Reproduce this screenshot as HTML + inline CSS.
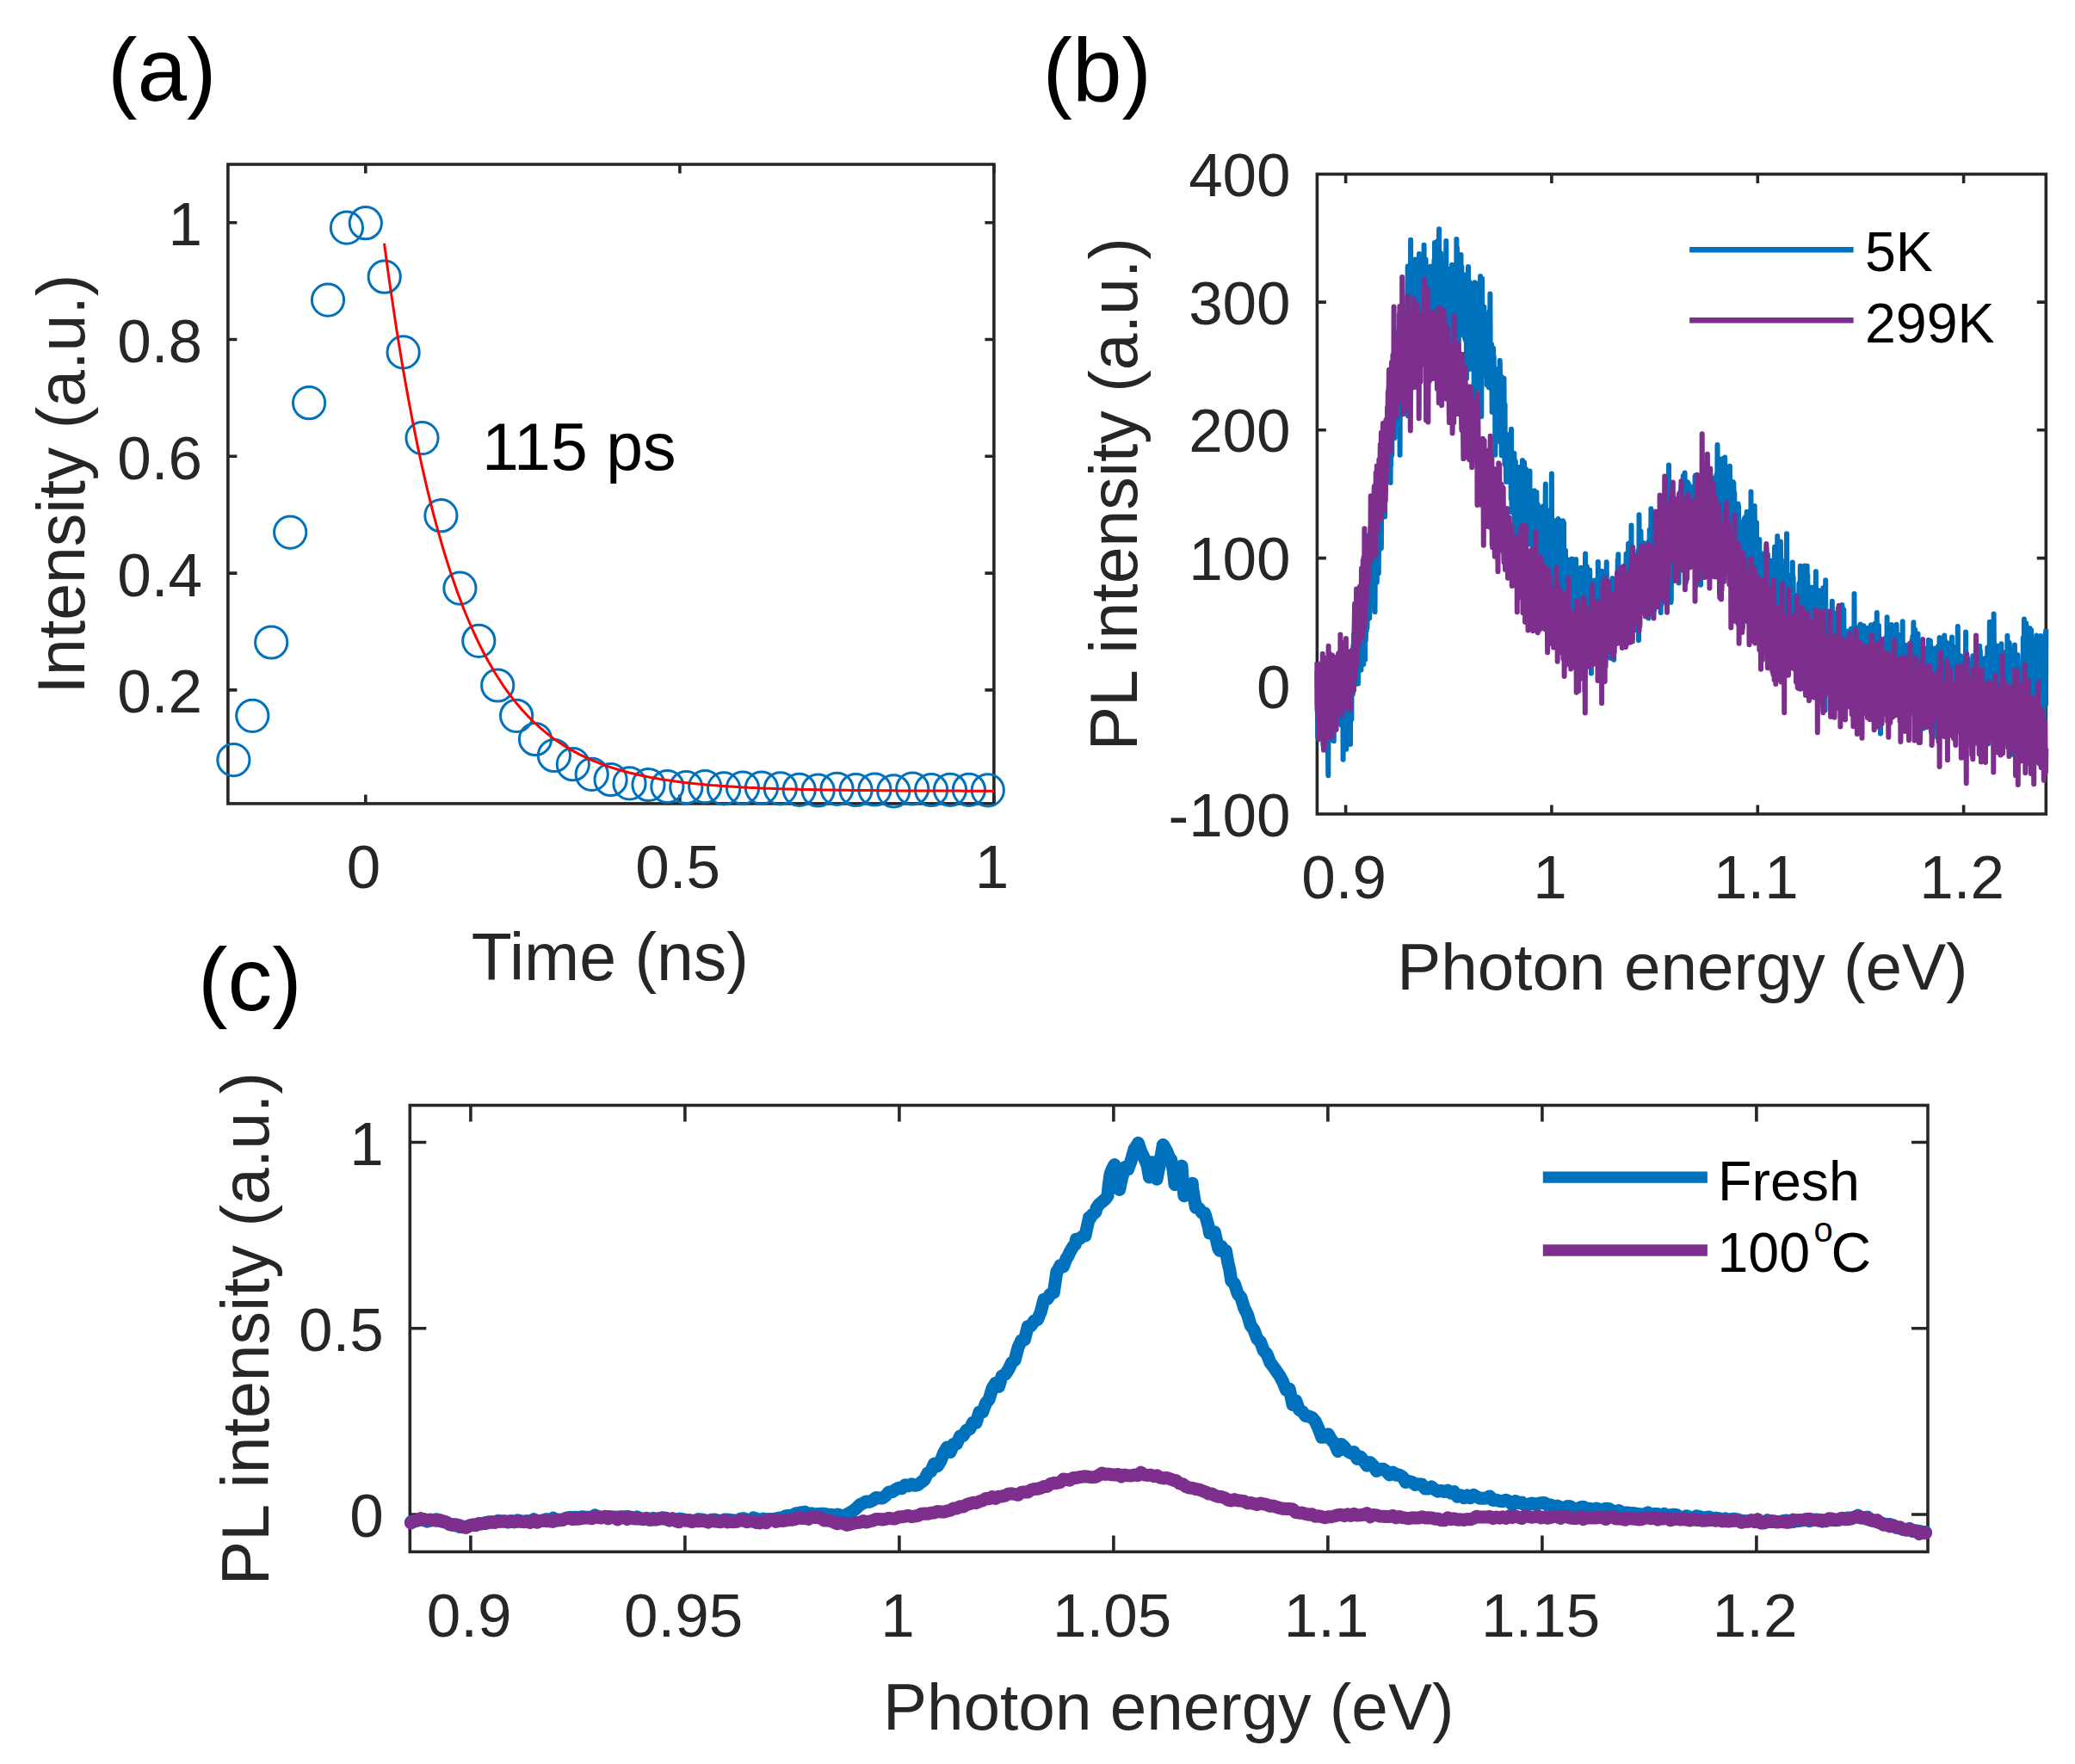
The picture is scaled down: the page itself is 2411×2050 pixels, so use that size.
<!DOCTYPE html>
<html><head><meta charset="utf-8"><title>figure</title>
<style>html,body{margin:0;padding:0;background:#fff}svg{display:block}text{font-family:"Liberation Sans",sans-serif}</style>
</head><body>
<svg width="2411" height="2050" viewBox="0 0 2411 2050">
<rect width="2411" height="2050" fill="#fff"/>
<g id="pa">
<rect x="264.9" y="191" width="890" height="742.9" fill="none" stroke="#262626" stroke-width="3.6"/>
<path d="M424.8 933.9V923.4M424.8 191V201.5M789.9 933.9V923.4M789.9 191V201.5M1154.9 933.9V923.4M1154.9 191V201.5M264.9 801.9H275.4M1154.9 801.9H1144.4M264.9 666.1H275.4M1154.9 666.1H1144.4M264.9 530.3H275.4M1154.9 530.3H1144.4M264.9 394.5H275.4M1154.9 394.5H1144.4M264.9 258.7H275.4M1154.9 258.7H1144.4" stroke="#262626" stroke-width="3.6" fill="none"/>
<circle cx="271.4" cy="883.1" r="18.6" fill="none" stroke="#0072BD" stroke-width="3"/>
<circle cx="293.3" cy="831.8" r="18.6" fill="none" stroke="#0072BD" stroke-width="3"/>
<circle cx="315.2" cy="746.5" r="18.6" fill="none" stroke="#0072BD" stroke-width="3"/>
<circle cx="337.2" cy="618.6" r="18.6" fill="none" stroke="#0072BD" stroke-width="3"/>
<circle cx="359.1" cy="468.2" r="18.6" fill="none" stroke="#0072BD" stroke-width="3"/>
<circle cx="381" cy="348.6" r="18.6" fill="none" stroke="#0072BD" stroke-width="3"/>
<circle cx="402.9" cy="264.6" r="18.6" fill="none" stroke="#0072BD" stroke-width="3"/>
<circle cx="424.8" cy="259.2" r="18.6" fill="none" stroke="#0072BD" stroke-width="3"/>
<circle cx="446.7" cy="321.7" r="18.6" fill="none" stroke="#0072BD" stroke-width="3"/>
<circle cx="468.6" cy="409.4" r="18.6" fill="none" stroke="#0072BD" stroke-width="3"/>
<circle cx="490.5" cy="509.1" r="18.6" fill="none" stroke="#0072BD" stroke-width="3"/>
<circle cx="512.4" cy="599.2" r="18.6" fill="none" stroke="#0072BD" stroke-width="3"/>
<circle cx="534.4" cy="683.6" r="18.6" fill="none" stroke="#0072BD" stroke-width="3"/>
<circle cx="556.3" cy="744.8" r="18.6" fill="none" stroke="#0072BD" stroke-width="3"/>
<circle cx="578.2" cy="796.5" r="18.6" fill="none" stroke="#0072BD" stroke-width="3"/>
<circle cx="600.1" cy="831.8" r="18.6" fill="none" stroke="#0072BD" stroke-width="3"/>
<circle cx="622" cy="859" r="18.6" fill="none" stroke="#0072BD" stroke-width="3"/>
<circle cx="643.9" cy="878" r="18.6" fill="none" stroke="#0072BD" stroke-width="3"/>
<circle cx="665.8" cy="888.2" r="18.6" fill="none" stroke="#0072BD" stroke-width="3"/>
<circle cx="687.7" cy="899.8" r="18.6" fill="none" stroke="#0072BD" stroke-width="3"/>
<circle cx="709.6" cy="906" r="18.6" fill="none" stroke="#0072BD" stroke-width="3"/>
<circle cx="731.5" cy="910.4" r="18.6" fill="none" stroke="#0072BD" stroke-width="3"/>
<circle cx="753.5" cy="912" r="18.6" fill="none" stroke="#0072BD" stroke-width="3"/>
<circle cx="775.4" cy="914" r="18.6" fill="none" stroke="#0072BD" stroke-width="3"/>
<circle cx="797.3" cy="915" r="18.6" fill="none" stroke="#0072BD" stroke-width="3"/>
<circle cx="819.2" cy="914.1" r="18.6" fill="none" stroke="#0072BD" stroke-width="3"/>
<circle cx="841.1" cy="916.4" r="18.6" fill="none" stroke="#0072BD" stroke-width="3"/>
<circle cx="863" cy="915.6" r="18.6" fill="none" stroke="#0072BD" stroke-width="3"/>
<circle cx="884.9" cy="915.6" r="18.6" fill="none" stroke="#0072BD" stroke-width="3"/>
<circle cx="906.8" cy="916.3" r="18.6" fill="none" stroke="#0072BD" stroke-width="3"/>
<circle cx="928.7" cy="917.8" r="18.6" fill="none" stroke="#0072BD" stroke-width="3"/>
<circle cx="950.6" cy="918.5" r="18.6" fill="none" stroke="#0072BD" stroke-width="3"/>
<circle cx="972.5" cy="916.8" r="18.6" fill="none" stroke="#0072BD" stroke-width="3"/>
<circle cx="994.5" cy="918" r="18.6" fill="none" stroke="#0072BD" stroke-width="3"/>
<circle cx="1016.4" cy="917.5" r="18.6" fill="none" stroke="#0072BD" stroke-width="3"/>
<circle cx="1038.3" cy="919.3" r="18.6" fill="none" stroke="#0072BD" stroke-width="3"/>
<circle cx="1060.2" cy="916.5" r="18.6" fill="none" stroke="#0072BD" stroke-width="3"/>
<circle cx="1082.1" cy="918" r="18.6" fill="none" stroke="#0072BD" stroke-width="3"/>
<circle cx="1104" cy="917.8" r="18.6" fill="none" stroke="#0072BD" stroke-width="3"/>
<circle cx="1125.9" cy="917.8" r="18.6" fill="none" stroke="#0072BD" stroke-width="3"/>
<circle cx="1147.8" cy="918.3" r="18.6" fill="none" stroke="#0072BD" stroke-width="3"/>
<path d="M446.5 282.9 L450 309.3 L453.6 334.6 L457.2 358.9 L460.7 382.2 L464.3 404.5 L467.8 425.8 L471.4 446.3 L475 466 L478.5 484.8 L482.1 502.8 L485.6 520.1 L489.2 536.7 L492.8 552.6 L496.3 567.8 L499.9 582.4 L503.4 596.4 L507 609.8 L510.6 622.7 L514.1 635 L517.7 646.8 L521.2 658.1 L524.8 668.9 L528.4 679.3 L531.9 689.3 L535.5 698.8 L539 708 L542.6 716.8 L546.2 725.2 L549.7 733.2 L553.3 741 L556.8 748.4 L560.4 755.5 L564 762.3 L567.5 768.8 L571.1 775.1 L574.6 781 L578.2 786.8 L581.8 792.3 L585.3 797.6 L588.9 802.6 L592.4 807.5 L596 812.1 L599.6 816.6 L603.1 820.8 L606.7 824.9 L610.2 828.8 L613.8 832.6 L617.4 836.2 L620.9 839.7 L624.5 843 L628 846.1 L631.6 849.2 L635.2 852.1 L638.7 854.9 L642.3 857.6 L645.8 860.1 L649.4 862.6 L653 864.9 L656.5 867.2 L660.1 869.4 L663.6 871.4 L667.2 873.4 L670.8 875.3 L674.3 877.2 L677.9 878.9 L681.4 880.6 L685 882.2 L688.6 883.8 L692.1 885.2 L695.7 886.6 L699.2 888 L702.8 889.3 L706.4 890.6 L709.9 891.8 L713.5 892.9 L717 894 L720.6 895 L724.2 896.1 L727.7 897 L731.3 898 L734.8 898.8 L738.4 899.7 L742 900.5 L745.5 901.3 L749.1 902 L752.6 902.8 L756.2 903.5 L759.8 904.1 L763.3 904.7 L766.9 905.4 L770.4 905.9 L774 906.5 L777.6 907 L781.1 907.5 L784.7 908 L788.2 908.5 L791.8 909 L795.4 909.4 L798.9 909.8 L802.5 910.2 L806 910.6 L809.6 910.9 L813.2 911.3 L816.7 911.6 L820.3 911.9 L823.8 912.3 L827.4 912.6 L831 912.8 L834.5 913.1 L838.1 913.4 L841.6 913.6 L845.2 913.9 L848.8 914.1 L852.3 914.3 L855.9 914.5 L859.4 914.7 L863 914.9 L866.5 915.1 L870.1 915.3 L873.7 915.4 L877.2 915.6 L880.8 915.8 L884.3 915.9 L887.9 916.1 L891.5 916.2 L895 916.3 L898.6 916.4 L902.1 916.6 L905.7 916.7 L909.3 916.8 L912.8 916.9 L916.4 917 L919.9 917.1 L923.5 917.2 L927.1 917.3 L930.6 917.4 L934.2 917.5 L937.7 917.5 L941.3 917.6 L944.9 917.7 L948.4 917.8 L952 917.8 L955.5 917.9 L959.1 917.9 L962.7 918 L966.2 918.1 L969.8 918.1 L973.3 918.2 L976.9 918.2 L980.5 918.3 L984 918.3 L987.6 918.4 L991.1 918.4 L994.7 918.4 L998.3 918.5 L1001.8 918.5 L1005.4 918.5 L1008.9 918.6 L1012.5 918.6 L1016.1 918.6 L1019.6 918.7 L1023.2 918.7 L1026.7 918.7 L1030.3 918.8 L1033.9 918.8 L1037.4 918.8 L1041 918.8 L1044.5 918.9 L1048.1 918.9 L1051.7 918.9 L1055.2 918.9 L1058.8 918.9 L1062.3 919 L1065.9 919 L1069.5 919 L1073 919 L1076.6 919 L1080.1 919 L1083.7 919 L1087.3 919.1 L1090.8 919.1 L1094.4 919.1 L1097.9 919.1 L1101.5 919.1 L1105.1 919.1 L1108.6 919.1 L1112.2 919.1 L1115.7 919.1 L1119.3 919.2 L1122.9 919.2 L1126.4 919.2 L1130 919.2 L1133.5 919.2 L1137.1 919.2 L1140.7 919.2 L1144.2 919.2 L1147.8 919.2 L1151.3 919.2 L1154.9 919.2" fill="none" stroke="#FF0000" stroke-width="3" stroke-linejoin="round"/>
<text x="422.5" y="1032" font-size="71" text-anchor="middle" fill="#262626" >0</text>
<text x="787.6" y="1032" font-size="71" text-anchor="middle" fill="#262626" >0.5</text>
<text x="1152.6" y="1032" font-size="71" text-anchor="middle" fill="#262626" >1</text>
<text x="235" y="828.4" font-size="71" text-anchor="end" fill="#262626" >0.2</text>
<text x="235" y="692.6" font-size="71" text-anchor="end" fill="#262626" >0.4</text>
<text x="235" y="556.8" font-size="71" text-anchor="end" fill="#262626" >0.6</text>
<text x="235" y="421" font-size="71" text-anchor="end" fill="#262626" >0.8</text>
<text x="235" y="285.2" font-size="71" text-anchor="end" fill="#262626" >1</text>
<text x="708.9" y="1138.8" font-size="77" text-anchor="middle" fill="#262626" >Time (ns)</text>
<text transform="translate(97.5,562.5) rotate(-90)" font-size="77" text-anchor="middle" fill="#262626">Intensity (a.u.)</text>
<text x="560" y="546.3" font-size="77" text-anchor="start" fill="#000" >115 ps</text>
<text x="125" y="117.3" font-size="103.5" text-anchor="start" fill="#000" >(a)</text>
</g>
<g id="pb">
<rect x="1530.4" y="202.4" width="846.9" height="743.6" fill="none" stroke="#262626" stroke-width="3.6"/>
<path d="M1563.6 946V935.5M1563.6 202.4V212.9M1802.9 946V935.5M1802.9 202.4V212.9M2042.3 946V935.5M2042.3 202.4V212.9M2281.6 946V935.5M2281.6 202.4V212.9M1530.4 797.3H1540.9M2377.3 797.3H2366.8M1530.4 648.6H1540.9M2377.3 648.6H2366.8M1530.4 499.8H1540.9M2377.3 499.8H2366.8M1530.4 351.1H1540.9M2377.3 351.1H2366.8" stroke="#262626" stroke-width="3.6" fill="none"/>
<path d="M1530.3 779.3L1530.6 820.3L1530.9 823.2L1531.2 856.8L1531.5 816L1531.7 808.3L1532 835.1L1532.3 825.2L1532.6 841.7L1532.9 805.4L1533.2 789.8L1533.4 814.6L1533.7 811.2L1534 823L1534.3 841L1534.6 844.4L1534.9 834.8L1535.1 821.2L1535.4 824.4L1535.7 797.9L1536 804.9L1536.3 785.5L1536.5 803.9L1536.8 830.2L1537.1 821.4L1537.4 865.9L1537.7 780.5L1538 838.8L1538.2 834.2L1538.5 776.3L1538.8 851.3L1539.1 839.4L1539.4 825L1539.7 838.3L1539.9 820.8L1540.2 816.7L1540.5 806.5L1540.8 825.7L1541.1 804.8L1541.3 831.4L1541.6 806.8L1541.9 792.1L1542.2 867.3L1542.5 828.2L1542.8 817.6L1543 871.1L1543.3 901.2L1543.6 813.9L1543.9 838.6L1544.2 801.5L1544.5 821.9L1544.7 821.9L1545 830.5L1545.3 818.7L1545.6 844.7L1545.9 834.4L1546.1 800.6L1546.4 827.4L1546.7 807.7L1547 820.9L1547.3 829.3L1547.6 845.4L1547.8 798.5L1548.1 841.6L1548.4 810.3L1548.7 860.2L1549 812.7L1549.3 809.7L1549.5 836L1549.8 861.2L1550.1 823.3L1550.4 816.4L1550.7 832.5L1551 836.3L1551.2 795.1L1551.5 821.4L1551.8 829.1L1552.1 796.3L1552.4 818.5L1552.6 835.9L1552.9 795.2L1553.2 826.9L1553.5 793.5L1553.8 834.6L1554.1 808.7L1554.3 784.9L1554.6 804.9L1554.9 803.6L1555.2 804.8L1555.5 794L1555.8 813.9L1556 804.2L1556.3 821.5L1556.6 765.6L1556.9 837.8L1557.2 793.8L1557.4 840.1L1557.7 800.8L1558 780.6L1558.3 842.4L1558.6 768.8L1558.9 838.6L1559.1 834.8L1559.4 805.1L1559.7 841.5L1560 787.8L1560.3 800.2L1560.6 882.7L1560.8 849.1L1561.1 830.8L1561.4 801.3L1561.7 839.4L1562 830.2L1562.2 795.5L1562.5 836.8L1562.8 803.4L1563.1 845.9L1563.4 784.8L1563.7 773.8L1563.9 839.6L1564.2 870.7L1564.5 853L1564.8 784.8L1565.1 823.9L1565.4 782L1565.6 843L1565.9 832.4L1566.2 810.9L1566.5 779.9L1566.8 812.4L1567 832.7L1567.3 798L1567.6 802.8L1567.9 791.5L1568.2 808.2L1568.5 818.9L1568.7 801.6L1569 864.9L1569.3 793.6L1569.6 767.9L1569.9 784.4L1570.2 822.1L1570.4 836.1L1570.7 761.8L1571 807.8L1571.3 799L1571.6 786.7L1571.8 806.6L1572.1 789.2L1572.4 750.3L1572.7 800.7L1573 737L1573.3 775.5L1573.5 775.9L1573.8 758.3L1574.1 757.6L1574.4 752.8L1574.7 764.4L1575 792.6L1575.2 733.7L1575.5 778.6L1575.8 795L1576.1 748.4L1576.4 753.4L1576.7 769.7L1576.9 765.4L1577.2 750.6L1577.5 713.9L1577.8 764.8L1578.1 794.4L1578.3 774.7L1578.6 744.9L1578.9 762L1579.2 772.7L1579.5 734.4L1579.8 732.6L1580 755.8L1580.3 741.4L1580.6 764.1L1580.9 761.8L1581.2 753.1L1581.5 778.6L1581.7 732L1582 741.5L1582.3 751.3L1582.6 733.5L1582.9 731.2L1583.1 753L1583.4 747.4L1583.7 751.3L1584 692.5L1584.3 772L1584.6 727.7L1584.8 701.7L1585.1 751.6L1585.4 746.8L1585.7 745.9L1586 766.7L1586.3 685.2L1586.5 722.2L1586.8 744.3L1587.1 730.3L1587.4 707L1587.7 719.1L1587.9 732.9L1588.2 693.4L1588.5 729.5L1588.8 714.5L1589.1 697.4L1589.4 720.1L1589.6 696.5L1589.9 714.3L1590.2 622.3L1590.5 704.4L1590.8 672.5L1591.1 712.9L1591.3 718.3L1591.6 689.1L1591.9 693.3L1592.2 691.2L1592.5 680.8L1592.7 653.6L1593 623.2L1593.3 618.2L1593.6 670.3L1593.9 619.2L1594.2 620.7L1594.4 683.3L1594.7 677.4L1595 664.7L1595.3 605.3L1595.6 661.8L1595.9 662.5L1596.1 614.9L1596.4 656.7L1596.7 653.8L1597 630.6L1597.3 640.4L1597.5 711.1L1597.8 676.2L1598.1 619L1598.4 677.2L1598.7 600L1599 634.5L1599.2 623.1L1599.5 620.1L1599.8 676.8L1600.1 643.9L1600.4 651.4L1600.7 612.4L1600.9 573.5L1601.2 621.3L1601.5 610.6L1601.8 666.3L1602.1 618.9L1602.4 612.9L1602.6 609.2L1602.9 584.3L1603.2 559L1603.5 597.6L1603.8 583.6L1604 637.9L1604.3 573.1L1604.6 587.5L1604.9 637L1605.2 574.4L1605.5 601.2L1605.7 550.5L1606 564.4L1606.3 573.3L1606.6 523.5L1606.9 576.2L1607.2 578.5L1607.4 566.4L1607.7 561.9L1608 588.2L1608.3 544.4L1608.6 546.6L1608.8 572.4L1609.1 600.6L1609.4 516.9L1609.7 511.3L1610 521.2L1610.3 516.2L1610.5 489.8L1610.8 530.6L1611.1 489.6L1611.4 539.9L1611.7 559L1612 530.2L1612.2 537.6L1612.5 511.2L1612.8 469.3L1613.1 508.6L1613.4 487.5L1613.6 452.6L1613.9 460.1L1614.2 509.1L1614.5 529.8L1614.8 443L1615.1 537.5L1615.3 557.8L1615.6 560.9L1615.9 462.6L1616.2 540.7L1616.5 501.4L1616.8 495.4L1617 449.4L1617.3 528.9L1617.6 483.2L1617.9 473.3L1618.2 437.1L1618.4 485.5L1618.7 467.6L1619 482.4L1619.3 438L1619.6 440.4L1619.9 479.3L1620.1 448.2L1620.4 508.9L1620.7 458.9L1621 486.3L1621.3 469.7L1621.6 423.4L1621.8 385.8L1622.1 444.2L1622.4 453L1622.7 457.1L1623 421.3L1623.3 448.4L1623.5 410.2L1623.8 390.8L1624.1 417.5L1624.4 447.4L1624.7 409.5L1624.9 453.4L1625.2 485.3L1625.5 392.3L1625.8 366.1L1626.1 383.1L1626.4 434.7L1626.6 528.7L1626.9 443.4L1627.2 399.1L1627.5 429.9L1627.8 371.8L1628.1 440.4L1628.3 397.5L1628.6 404.8L1628.9 402.4L1629.2 454.1L1629.5 411.5L1629.7 398.6L1630 418.5L1630.3 446.4L1630.6 418.9L1630.9 432.7L1631.2 389.8L1631.4 368.6L1631.7 387.9L1632 385.3L1632.3 401.7L1632.6 388.5L1632.9 456.1L1633.1 389.8L1633.4 362.4L1633.7 406.7L1634 366.2L1634.3 435.9L1634.5 384.6L1634.8 391L1635.1 368.7L1635.4 377.9L1635.7 309.5L1636 483.3L1636.2 426.2L1636.5 399.9L1636.8 373.8L1637.1 396.8L1637.4 396.7L1637.7 424.9L1637.9 416.9L1638.2 400L1638.5 321.2L1638.8 396.1L1639.1 278.8L1639.3 333L1639.6 376.2L1639.9 339.2L1640.2 331.6L1640.5 403.3L1640.8 416.4L1641 314.5L1641.3 393.1L1641.6 332.6L1641.9 337.9L1642.2 414.3L1642.5 337.7L1642.7 339.8L1643 315.6L1643.3 358.2L1643.6 341.6L1643.9 343.6L1644.1 363.3L1644.4 301.4L1644.7 323.1L1645 304L1645.3 342.5L1645.6 315.7L1645.8 385.1L1646.1 374L1646.4 320.5L1646.7 360.9L1647 366.3L1647.3 348L1647.5 405.1L1647.8 347.5L1648.1 336.8L1648.4 363.4L1648.7 389.7L1649 295.1L1649.2 338.6L1649.5 386.2L1649.8 371.8L1650.1 405.5L1650.4 409.5L1650.6 415L1650.9 379.5L1651.2 338.2L1651.5 327.6L1651.8 355.6L1652.1 318.2L1652.3 333L1652.6 389.4L1652.9 379.3L1653.2 342.1L1653.5 329L1653.8 315.7L1654 396.4L1654.3 415.1L1654.6 284.7L1654.9 360.1L1655.2 318L1655.4 349.5L1655.7 396L1656 304.4L1656.3 334.9L1656.6 301.6L1656.9 330.2L1657.1 382.5L1657.4 351.2L1657.7 317L1658 372.4L1658.3 343.4L1658.6 311.3L1658.8 390.1L1659.1 361.6L1659.4 343.5L1659.7 317.7L1660 352.2L1660.2 372.5L1660.5 330.5L1660.8 368.9L1661.1 335L1661.4 337L1661.7 355.1L1661.9 320.4L1662.2 309.8L1662.5 391.4L1662.8 331.3L1663.1 353.8L1663.4 358.2L1663.6 345.4L1663.9 309.5L1664.2 352.9L1664.5 358.6L1664.8 389.1L1665 353.3L1665.3 347.8L1665.6 379L1665.9 357.6L1666.2 331.9L1666.5 301.9L1666.7 356.7L1667 281.9L1667.3 314.5L1667.6 318.6L1667.9 327.5L1668.2 343.5L1668.4 367.3L1668.7 348.7L1669 344.5L1669.3 341.1L1669.6 295.8L1669.9 280.6L1670.1 328.4L1670.4 313.1L1670.7 368.3L1671 410.7L1671.3 348.9L1671.5 337.5L1671.8 299.6L1672.1 266.3L1672.4 336.7L1672.7 302.6L1673 308.9L1673.2 338.2L1673.5 318.1L1673.8 332.6L1674.1 294.3L1674.4 379.7L1674.7 420.9L1674.9 340.7L1675.2 314.8L1675.5 310.6L1675.8 363.6L1676.1 327.2L1676.3 366.5L1676.6 322.8L1676.9 369.5L1677.2 380.3L1677.5 314.4L1677.8 386.3L1678 393.5L1678.3 319.5L1678.6 342.1L1678.9 421.2L1679.2 306.9L1679.5 385.9L1679.7 360.6L1680 349.5L1680.3 280L1680.6 346.7L1680.9 316.4L1681.1 350.7L1681.4 329.5L1681.7 392.4L1682 346.3L1682.3 366.5L1682.6 379.8L1682.8 337L1683.1 312.8L1683.4 331.3L1683.7 357.3L1684 323.1L1684.3 383.5L1684.5 336.9L1684.8 330.4L1685.1 350.4L1685.4 356L1685.7 343.9L1685.9 366.5L1686.2 355.3L1686.5 324.2L1686.8 411.2L1687.1 307.7L1687.4 333.7L1687.6 341.8L1687.9 381.8L1688.2 362.6L1688.5 368.7L1688.8 327.2L1689.1 329L1689.3 312.1L1689.6 348L1689.9 416.2L1690.2 381.9L1690.5 362.6L1690.7 340.1L1691 400L1691.3 357.8L1691.6 349.4L1691.9 371.1L1692.2 358.1L1692.4 278L1692.7 352.9L1693 288.1L1693.3 344.9L1693.6 376L1693.9 335.1L1694.1 366.6L1694.4 355.7L1694.7 426.7L1695 342.7L1695.3 373.2L1695.6 317.8L1695.8 351.2L1696.1 367.4L1696.4 389.4L1696.7 355L1697 368.1L1697.2 381.5L1697.5 295.9L1697.8 361.6L1698.1 328.2L1698.4 309.9L1698.7 344.7L1698.9 337.8L1699.2 342.1L1699.5 327.8L1699.8 340.6L1700.1 343.3L1700.4 355.4L1700.6 375.9L1700.9 374.6L1701.2 381.6L1701.5 355.2L1701.8 319.5L1702 392.7L1702.3 382.3L1702.6 394.7L1702.9 365.2L1703.2 330.9L1703.5 375.1L1703.7 354.9L1704 439.9L1704.3 370.4L1704.6 350.4L1704.9 386.3L1705.2 419.4L1705.4 352.6L1705.7 371.4L1706 310.1L1706.3 387.4L1706.6 374.3L1706.8 382L1707.1 367L1707.4 429.1L1707.7 327.7L1708 351.3L1708.3 379.5L1708.5 384.2L1708.8 356.6L1709.1 362.1L1709.4 387.6L1709.7 380L1710 364.2L1710.2 389.3L1710.5 386.7L1710.8 390.3L1711.1 388.8L1711.4 419.2L1711.6 408.4L1711.9 367L1712.2 354.2L1712.5 381.5L1712.8 494.5L1713.1 428.1L1713.3 368.4L1713.6 328.3L1713.9 344.1L1714.2 389.6L1714.5 394.8L1714.8 397.8L1715 329.4L1715.3 377.7L1715.6 414.9L1715.9 356L1716.2 360.4L1716.5 451.4L1716.7 407.9L1717 356.5L1717.3 360.1L1717.6 429L1717.9 390.2L1718.1 362.9L1718.4 380.4L1718.7 425.2L1719 398.4L1719.3 372.2L1719.6 378.2L1719.8 424.8L1720.1 321L1720.4 388.6L1720.7 443.7L1721 407.4L1721.3 484.1L1721.5 419.9L1721.8 400.3L1722.1 323.7L1722.4 394.2L1722.7 389.4L1722.9 377.8L1723.2 395.7L1723.5 421.9L1723.8 361.1L1724.1 388.2L1724.4 356.8L1724.6 373.7L1724.9 436.1L1725.2 421.8L1725.5 420.9L1725.8 421.1L1726.1 395.7L1726.3 416.1L1726.6 436.1L1726.9 366.3L1727.2 370.4L1727.5 412.5L1727.7 447.5L1728 434.7L1728.3 439.7L1728.6 444.8L1728.9 448.1L1729.2 411.3L1729.4 410.4L1729.7 407.1L1730 450.3L1730.3 413L1730.6 361.4L1730.9 416.7L1731.1 437.1L1731.4 341.4L1731.7 417.1L1732 447L1732.3 401.3L1732.5 451.5L1732.8 441.6L1733.1 400.3L1733.4 451.1L1733.7 479L1734 412.5L1734.2 409.5L1734.5 478.6L1734.8 447.9L1735.1 404.8L1735.4 431.5L1735.7 414.5L1735.9 444.8L1736.2 461.5L1736.5 460.2L1736.8 453.5L1737.1 439.6L1737.3 528.6L1737.6 505.8L1737.9 448.1L1738.2 429L1738.5 470.8L1738.8 451.7L1739 486L1739.3 496.5L1739.6 451L1739.9 459.3L1740.2 474.1L1740.5 499.6L1740.7 459.3L1741 464.9L1741.3 472.2L1741.6 469.7L1741.9 478.8L1742.2 453.5L1742.4 459L1742.7 418.9L1743 432L1743.3 477.4L1743.6 514.6L1743.8 460.6L1744.1 499.2L1744.4 437.4L1744.7 529.2L1745 499.3L1745.3 442.4L1745.5 489.9L1745.8 470.2L1746.1 473.9L1746.4 509.9L1746.7 472.2L1747 524.7L1747.2 510.3L1747.5 439.7L1747.8 509.6L1748.1 495.1L1748.4 539.4L1748.6 470L1748.9 538.3L1749.2 534.9L1749.5 532.5L1749.8 544.3L1750.1 560L1750.3 528.5L1750.6 535.9L1750.9 526.3L1751.2 553.8L1751.5 553.1L1751.8 537.7L1752 530.1L1752.3 558.7L1752.6 534.3L1752.9 541.6L1753.2 505.6L1753.4 519.4L1753.7 524.7L1754 511.5L1754.3 560.5L1754.6 504.3L1754.9 539.5L1755.1 560.4L1755.4 535.8L1755.7 579.7L1756 498.7L1756.3 543.8L1756.6 595.3L1756.8 585.8L1757.1 569.1L1757.4 571.6L1757.7 543.5L1758 532.1L1758.2 529.1L1758.5 543.7L1758.8 586.9L1759.1 528.9L1759.4 526.6L1759.7 618.2L1759.9 579.7L1760.2 574.4L1760.5 587.3L1760.8 536.1L1761.1 553.4L1761.4 565.6L1761.6 602.9L1761.9 627.5L1762.2 596.2L1762.5 594L1762.8 596.8L1763.1 632.2L1763.3 616.2L1763.6 585.5L1763.9 564.4L1764.2 589.7L1764.5 582L1764.7 578.1L1765 578.6L1765.3 543.1L1765.6 600.7L1765.9 572.7L1766.2 616.8L1766.4 546.2L1766.7 559.6L1767 552.7L1767.3 578.3L1767.6 585.5L1767.9 619L1768.1 574.2L1768.4 545L1768.7 662.9L1769 535L1769.3 608.6L1769.5 572.3L1769.8 609.5L1770.1 591.3L1770.4 564.2L1770.7 593.2L1771 537.2L1771.2 587.9L1771.5 571.1L1771.8 607.5L1772.1 604.8L1772.4 602.3L1772.7 577.3L1772.9 544.9L1773.2 591.6L1773.5 629.5L1773.8 611L1774.1 633L1774.3 580.9L1774.6 594.4L1774.9 626.1L1775.2 606.4L1775.5 570.2L1775.8 584.2L1776 613.9L1776.3 577L1776.6 587.7L1776.9 614.9L1777.2 594.7L1777.5 547.5L1777.7 632.1L1778 572.7L1778.3 606L1778.6 584.8L1778.9 591.9L1779.1 595.8L1779.4 608.7L1779.7 604.8L1780 586.4L1780.3 593.1L1780.6 647.8L1780.8 594.4L1781.1 570.9L1781.4 583.2L1781.7 603.1L1782 660.9L1782.3 593.5L1782.5 592.1L1782.8 570.2L1783.1 638.8L1783.4 619.1L1783.7 628L1783.9 621.3L1784.2 662.8L1784.5 628.2L1784.8 627.7L1785.1 626.7L1785.4 572.1L1785.6 635.1L1785.9 630.5L1786.2 587.2L1786.5 635L1786.8 586.2L1787.1 607.9L1787.3 638.7L1787.6 641.5L1787.9 618.4L1788.2 628.4L1788.5 620.8L1788.8 640.2L1789 608.2L1789.3 644L1789.6 639L1789.9 631.5L1790.2 662.2L1790.4 636.5L1790.7 634L1791 669.2L1791.3 679.4L1791.6 595.4L1791.9 638.1L1792.1 635.1L1792.4 649.4L1792.7 588.4L1793 638.7L1793.3 683.2L1793.6 620.4L1793.8 661.8L1794.1 623.1L1794.4 639.4L1794.7 600.9L1795 623.6L1795.2 647.8L1795.5 598.2L1795.8 562.5L1796.1 653.7L1796.4 609.1L1796.7 629.4L1796.9 627.8L1797.2 675.3L1797.5 668.5L1797.8 602.4L1798.1 638.2L1798.4 657.7L1798.6 593.3L1798.9 609.9L1799.2 624L1799.5 672.1L1799.8 645.7L1800 605L1800.3 702.9L1800.6 691.1L1800.9 669.7L1801.2 620.9L1801.5 642L1801.7 635.8L1802 644L1802.3 647L1802.6 616.8L1802.9 550.6L1803.2 638.3L1803.4 615.3L1803.7 664.5L1804 608.2L1804.3 650.6L1804.6 648.7L1804.8 667L1805.1 675.9L1805.4 670.3L1805.7 682.7L1806 692.1L1806.3 605.3L1806.5 644.7L1806.8 630.1L1807.1 644L1807.4 698.2L1807.7 658.1L1808 684.3L1808.2 682.4L1808.5 663.7L1808.8 656.4L1809.1 658.9L1809.4 658.4L1809.7 670.5L1809.9 662.1L1810.2 628.6L1810.5 603L1810.8 633.2L1811.1 671L1811.3 654.4L1811.6 639.1L1811.9 638.3L1812.2 632.7L1812.5 632.6L1812.8 656.4L1813 675.9L1813.3 711.3L1813.6 639.3L1813.9 652.4L1814.2 693.7L1814.5 670L1814.7 682L1815 683.6L1815.3 623.4L1815.6 682.2L1815.9 605.3L1816.1 676.9L1816.4 693.5L1816.7 670.4L1817 607.5L1817.3 679.1L1817.6 661.1L1817.8 738.5L1818.1 659.9L1818.4 714.7L1818.7 680.3L1819 639.7L1819.3 684.8L1819.5 658.3L1819.8 684.8L1820.1 688.3L1820.4 671.7L1820.7 649.7L1820.9 677.4L1821.2 681.1L1821.5 707.4L1821.8 728L1822.1 678.1L1822.4 687L1822.6 674.9L1822.9 653.9L1823.2 660.4L1823.5 707.7L1823.8 676.7L1824.1 676.4L1824.3 691.3L1824.6 747.1L1824.9 707.4L1825.2 688.2L1825.5 665.1L1825.7 694.9L1826 725.2L1826.3 649.4L1826.6 688.5L1826.9 700.4L1827.2 673.5L1827.4 669.5L1827.7 691.1L1828 705.4L1828.3 705.4L1828.6 668.1L1828.9 694.2L1829.1 677L1829.4 743.8L1829.7 705.1L1830 702.3L1830.3 705.2L1830.5 746.2L1830.8 705.2L1831.1 649.9L1831.4 685.2L1831.7 708.4L1832 714L1832.2 731.9L1832.5 688.6L1832.8 716.8L1833.1 706.5L1833.4 671.4L1833.7 670.3L1833.9 679.5L1834.2 742.4L1834.5 712.7L1834.8 665L1835.1 730.3L1835.4 663.6L1835.6 699.1L1835.9 672.6L1836.2 710.4L1836.5 731.3L1836.8 727.4L1837 659.7L1837.3 708.9L1837.6 733.9L1837.9 678.1L1838.2 743.2L1838.5 705.5L1838.7 692L1839 693.4L1839.3 690.1L1839.6 704.4L1839.9 769.7L1840.2 695.7L1840.4 703.8L1840.7 708.3L1841 689.5L1841.3 682.1L1841.6 697.5L1841.8 662.3L1842.1 643.5L1842.4 696L1842.7 713.5L1843 739.7L1843.3 688.4L1843.5 753.2L1843.8 658.3L1844.1 677.8L1844.4 719.2L1844.7 686.2L1845 728.8L1845.2 735.3L1845.5 684.2L1845.8 733.1L1846.1 698.6L1846.4 708.9L1846.6 662.6L1846.9 697L1847.2 662.4L1847.5 682L1847.8 727L1848.1 738L1848.3 764L1848.6 705.3L1848.9 782.6L1849.2 728.9L1849.5 772.6L1849.8 723.7L1850 687.4L1850.3 730.9L1850.6 722.1L1850.9 719.5L1851.2 699.7L1851.4 747.8L1851.7 704.4L1852 710.2L1852.3 735.8L1852.6 734.5L1852.9 674.6L1853.1 688L1853.4 696.1L1853.7 730.8L1854 717.5L1854.3 743.8L1854.6 756.5L1854.8 721.2L1855.1 724.9L1855.4 742.7L1855.7 742L1856 698.6L1856.3 721.5L1856.5 752.1L1856.8 653L1857.1 756.6L1857.4 703.2L1857.7 736.6L1857.9 690.7L1858.2 707.3L1858.5 681.5L1858.8 711.3L1859.1 730.1L1859.4 670L1859.6 711.1L1859.9 715.3L1860.2 713.8L1860.5 729.6L1860.8 700.1L1861.1 663.8L1861.3 668.9L1861.6 701.6L1861.9 692.2L1862.2 689.4L1862.5 727.3L1862.7 669.1L1863 703.1L1863.3 759.7L1863.6 693.1L1863.9 735L1864.2 701.8L1864.4 691.5L1864.7 718.6L1865 702.6L1865.3 673.2L1865.6 747.8L1865.9 761.7L1866.1 713.5L1866.4 716.7L1866.7 653.3L1867 682.9L1867.3 695.7L1867.5 712.9L1867.8 763L1868.1 746.3L1868.4 719L1868.7 704.9L1869 721.6L1869.2 706.9L1869.5 690.7L1869.8 729.2L1870.1 721.3L1870.4 736.1L1870.7 676.4L1870.9 764.8L1871.2 692.9L1871.5 688.1L1871.8 764.7L1872.1 722.1L1872.3 679.1L1872.6 733.4L1872.9 724.3L1873.2 709.5L1873.5 672.1L1873.8 691.1L1874 726.6L1874.3 745.4L1874.6 748.9L1874.9 698.2L1875.2 766.7L1875.5 722.9L1875.7 690.6L1876 739.6L1876.3 715.3L1876.6 709.3L1876.9 685.4L1877.1 742.8L1877.4 703.7L1877.7 706.9L1878 702.3L1878.3 748.1L1878.6 690.7L1878.8 727.5L1879.1 707.3L1879.4 727.2L1879.7 650.3L1880 701.8L1880.3 644.2L1880.5 720L1880.8 710.1L1881.1 661.7L1881.4 712L1881.7 689.5L1882 669.7L1882.2 711.3L1882.5 719.4L1882.8 707.4L1883.1 672.4L1883.4 688.2L1883.6 664.2L1883.9 706.7L1884.2 712.3L1884.5 730L1884.8 706.9L1885.1 714.7L1885.3 701.4L1885.6 723.8L1885.9 717.3L1886.2 705.9L1886.5 670.5L1886.8 706.1L1887 712.4L1887.3 668.1L1887.6 659L1887.9 704.1L1888.2 702.7L1888.4 745.3L1888.7 738.1L1889 696.2L1889.3 656.4L1889.6 643.5L1889.9 671.4L1890.1 707.2L1890.4 679.4L1890.7 733.7L1891 695.2L1891.3 725.3L1891.6 692.3L1891.8 652.5L1892.1 631.7L1892.4 685.6L1892.7 680.3L1893 736.7L1893.2 708.7L1893.5 648.4L1893.8 658L1894.1 666.7L1894.4 677.1L1894.7 643.7L1894.9 696L1895.2 693.9L1895.5 610.5L1895.8 711.7L1896.1 675.2L1896.4 697.7L1896.6 645.5L1896.9 694L1897.2 696L1897.5 694.7L1897.8 663.4L1898 713.3L1898.3 726.3L1898.6 688.2L1898.9 694.4L1899.2 669.2L1899.5 693.5L1899.7 700.3L1900 675.2L1900.3 670.9L1900.6 654.2L1900.9 680.4L1901.2 732.2L1901.4 682.8L1901.7 681L1902 683.6L1902.3 665.7L1902.6 688L1902.9 648.8L1903.1 687.6L1903.4 640.1L1903.7 709.7L1904 744.1L1904.3 705L1904.5 598.3L1904.8 684.6L1905.1 680.1L1905.4 669.1L1905.7 688.2L1906 668.5L1906.2 672.1L1906.5 617.4L1906.8 641.2L1907.1 666.7L1907.4 654.4L1907.7 656.6L1907.9 703.3L1908.2 641.4L1908.5 690L1908.8 649.8L1909.1 667.6L1909.3 645.8L1909.6 631L1909.9 654L1910.2 683.5L1910.5 678.4L1910.8 653.4L1911 680.6L1911.3 679.2L1911.6 671.5L1911.9 677.8L1912.2 652.6L1912.5 679.6L1912.7 663.9L1913 686.7L1913.3 714.4L1913.6 643L1913.9 637.5L1914.1 678.6L1914.4 641.6L1914.7 655L1915 696L1915.3 629.7L1915.6 718.5L1915.8 663.6L1916.1 641.4L1916.4 692.3L1916.7 615.7L1917 676.9L1917.3 624.7L1917.5 664.8L1917.8 639.7L1918.1 660L1918.4 591.2L1918.7 646L1918.9 628.1L1919.2 636.2L1919.5 650.6L1919.8 662.7L1920.1 643.5L1920.4 626.5L1920.6 628.4L1920.9 638.2L1921.2 656.8L1921.5 632.6L1921.8 680L1922.1 652.1L1922.3 708.9L1922.6 669.9L1922.9 654.6L1923.2 689.6L1923.5 681.6L1923.7 622.1L1924 634L1924.3 616.8L1924.6 614.1L1924.9 628.5L1925.2 623.6L1925.4 637.3L1925.7 608.9L1926 688L1926.3 649.2L1926.6 614.5L1926.9 619.5L1927.1 641L1927.4 651.8L1927.7 618.2L1928 646.4L1928.3 673L1928.6 607.7L1928.8 651.1L1929.1 634.7L1929.4 685.6L1929.7 711.9L1930 625.9L1930.2 591.1L1930.5 702.7L1930.8 652.1L1931.1 621.1L1931.4 631.2L1931.7 634.5L1931.9 636.7L1932.2 662.9L1932.5 603.7L1932.8 607.2L1933.1 623.8L1933.4 699.2L1933.6 585.5L1933.9 634.5L1934.2 617.5L1934.5 577.2L1934.8 594.3L1935 633.8L1935.3 600.2L1935.6 613.3L1935.9 646.6L1936.2 625.7L1936.5 679.6L1936.7 673.6L1937 622.7L1937.3 587.4L1937.6 655.5L1937.9 592.7L1938.2 622.3L1938.4 574.7L1938.7 636L1939 540.6L1939.3 612L1939.6 631.3L1939.8 616.9L1940.1 676.3L1940.4 613.4L1940.7 632.2L1941 608.2L1941.3 631.6L1941.5 700L1941.8 696.5L1942.1 640.2L1942.4 657.5L1942.7 595.4L1943 651.4L1943.2 607.3L1943.5 624.5L1943.8 574.9L1944.1 616.4L1944.4 613L1944.6 647.6L1944.9 607.3L1945.2 598.4L1945.5 620.7L1945.8 596.5L1946.1 646.7L1946.3 622.7L1946.6 604.2L1946.9 624.6L1947.2 579.8L1947.5 596.4L1947.8 632.4L1948 641.1L1948.3 614.1L1948.6 634.5L1948.9 624.6L1949.2 645.3L1949.4 590.1L1949.7 607.2L1950 603.1L1950.3 587.7L1950.6 677.5L1950.9 609.7L1951.1 617.5L1951.4 590.4L1951.7 595.1L1952 594.3L1952.3 571.5L1952.6 662.9L1952.8 639.3L1953.1 573L1953.4 566L1953.7 631.1L1954 574.7L1954.3 581.6L1954.5 646.2L1954.8 623.8L1955.1 596.2L1955.4 607.7L1955.7 553.1L1955.9 587.5L1956.2 578.7L1956.5 623.5L1956.8 639.8L1957.1 621.6L1957.4 562.7L1957.6 549.6L1957.9 626.6L1958.2 606.8L1958.5 674.7L1958.8 564.8L1959.1 638.4L1959.3 575.6L1959.6 563.9L1959.9 639.6L1960.2 626L1960.5 579.5L1960.7 560.3L1961 615L1961.3 629.8L1961.6 589.1L1961.9 562L1962.2 630.7L1962.4 621.1L1962.7 564.1L1963 591.8L1963.3 621.3L1963.6 596.9L1963.9 582.7L1964.1 566.5L1964.4 587.5L1964.7 596.2L1965 644.4L1965.3 579.5L1965.5 580L1965.8 588.7L1966.1 593.8L1966.4 590.5L1966.7 566L1967 604.4L1967.2 628.5L1967.5 566.8L1967.8 603.8L1968.1 600.8L1968.4 579.8L1968.7 599.5L1968.9 593.9L1969.2 624.3L1969.5 553.4L1969.8 630.4L1970.1 552.6L1970.3 627.9L1970.6 611.5L1970.9 602.9L1971.2 564.8L1971.5 584.5L1971.8 603.6L1972 626.5L1972.3 560.8L1972.6 588.8L1972.9 577.5L1973.2 595.1L1973.5 604.2L1973.7 570.1L1974 580.8L1974.3 556L1974.6 583.6L1974.9 630.5L1975.2 566.8L1975.4 587.6L1975.7 595.9L1976 679.7L1976.3 614.2L1976.6 584.1L1976.8 607.3L1977.1 581.5L1977.4 571.4L1977.7 589.3L1978 616.2L1978.3 576.2L1978.5 578.1L1978.8 595.9L1979.1 644L1979.4 624.9L1979.7 565.4L1980 596.3L1980.2 641.1L1980.5 594L1980.8 587.4L1981.1 570L1981.4 576L1981.6 577.6L1981.9 611.2L1982.2 637.6L1982.5 606.7L1982.8 548.7L1983.1 632.9L1983.3 562.6L1983.6 632.5L1983.9 626.8L1984.2 585.7L1984.5 612.6L1984.8 595.9L1985 622.5L1985.3 584.9L1985.6 563.8L1985.9 631.5L1986.2 572.9L1986.4 577.8L1986.7 565.8L1987 655.3L1987.3 562.6L1987.6 622.6L1987.9 596.2L1988.1 601.8L1988.4 618.6L1988.7 614.1L1989 610.2L1989.3 583.9L1989.6 567.6L1989.8 597.6L1990.1 566L1990.4 584.5L1990.7 555.4L1991 627.6L1991.2 584.7L1991.5 590.2L1991.8 585L1992.1 578.7L1992.4 565.4L1992.7 584.7L1992.9 573.8L1993.2 597.2L1993.5 593.2L1993.8 607.2L1994.1 557.6L1994.4 566.1L1994.6 551.6L1994.9 602.5L1995.2 594.1L1995.5 517L1995.8 557.6L1996 631.1L1996.3 567.5L1996.6 578.9L1996.9 598.9L1997.2 597.2L1997.5 613.9L1997.7 604.6L1998 611.9L1998.3 623.6L1998.6 601L1998.9 615.7L1999.2 569.4L1999.4 560.3L1999.7 595.1L2000 600.7L2000.3 572.6L2000.6 594.9L2000.9 533.2L2001.1 668.8L2001.4 660.3L2001.7 624.7L2002 579.2L2002.3 570.8L2002.5 607.5L2002.8 593.6L2003.1 602.9L2003.4 580.7L2003.7 536.6L2004 661.6L2004.2 531.6L2004.5 565.9L2004.8 605.9L2005.1 583.1L2005.4 598.6L2005.7 584.5L2005.9 585L2006.2 576.8L2006.5 628.9L2006.8 582.6L2007.1 619.9L2007.3 610L2007.6 578.9L2007.9 615.2L2008.2 594.2L2008.5 594.2L2008.8 601.1L2009 639.9L2009.3 591.1L2009.6 600.5L2009.9 541.8L2010.2 636.9L2010.5 576.9L2010.7 620.2L2011 617.3L2011.3 559.7L2011.6 613.6L2011.9 587.2L2012.1 607.2L2012.4 637.5L2012.7 618.3L2013 625.2L2013.3 619.7L2013.6 560.1L2013.8 600.9L2014.1 664.9L2014.4 561.5L2014.7 605.3L2015 591L2015.3 572.4L2015.5 641.5L2015.8 608.9L2016.1 623.2L2016.4 629.6L2016.7 628.9L2016.9 617.7L2017.2 587.8L2017.5 599.5L2017.8 614L2018.1 588.4L2018.4 689.9L2018.6 623.1L2018.9 614.6L2019.2 616.4L2019.5 585.6L2019.8 621.9L2020.1 588.3L2020.3 633.3L2020.6 609.2L2020.9 626.6L2021.2 637.5L2021.5 616.4L2021.8 615.6L2022 658.2L2022.3 606.4L2022.6 641.6L2022.9 632.1L2023.2 712.1L2023.4 637.1L2023.7 691.5L2024 613.2L2024.3 660.6L2024.6 651.6L2024.9 644.7L2025.1 678.1L2025.4 640.1L2025.7 676.2L2026 648L2026.3 618.2L2026.6 606.6L2026.8 602.8L2027.1 650.3L2027.4 671.5L2027.7 631.1L2028 601.1L2028.2 670.6L2028.5 607.8L2028.8 650.5L2029.1 721.8L2029.4 645.6L2029.7 594.8L2029.9 628L2030.2 618.6L2030.5 637.8L2030.8 697.1L2031.1 716.6L2031.4 680.4L2031.6 661.6L2031.9 679.7L2032.2 674.4L2032.5 629.9L2032.8 611.1L2033 700.5L2033.3 683.2L2033.6 656.2L2033.9 659.5L2034.2 720.6L2034.5 571.6L2034.7 635L2035 645.1L2035.3 709.9L2035.6 647.6L2035.9 689.4L2036.2 642.2L2036.4 648.6L2036.7 656.1L2037 645.4L2037.3 674.3L2037.6 653.3L2037.8 726.4L2038.1 638.3L2038.4 664.4L2038.7 588.1L2039 656.9L2039.3 726.3L2039.5 617.3L2039.8 681.5L2040.1 692.9L2040.4 662.7L2040.7 625.5L2041 607.2L2041.2 673.3L2041.5 656.5L2041.8 656.6L2042.1 681.6L2042.4 677.8L2042.6 667.9L2042.9 665.9L2043.2 634.5L2043.5 719.1L2043.8 651.7L2044.1 654.9L2044.3 627.1L2044.6 676.9L2044.9 676.9L2045.2 663.7L2045.5 682.9L2045.8 684.1L2046 686.4L2046.3 686.6L2046.6 697.1L2046.9 685.7L2047.2 690.9L2047.5 690L2047.7 707.3L2048 643.4L2048.3 661.7L2048.6 672.1L2048.9 701.4L2049.1 653.4L2049.4 678.4L2049.7 675L2050 669.8L2050.3 675.8L2050.6 645.4L2050.8 695.4L2051.1 692L2051.4 669.7L2051.7 679.8L2052 659.1L2052.3 649.1L2052.5 636.5L2052.8 648.5L2053.1 683.3L2053.4 680.4L2053.7 686.5L2053.9 644.2L2054.2 683L2054.5 700.7L2054.8 706.2L2055.1 656.6L2055.4 702.1L2055.6 751.7L2055.9 658.6L2056.2 669.3L2056.5 657.6L2056.8 651.6L2057.1 665.2L2057.3 668.8L2057.6 678.4L2057.9 702L2058.2 739.3L2058.5 735.3L2058.7 670.6L2059 659L2059.3 680.6L2059.6 703L2059.9 664.4L2060.2 683.1L2060.4 682.3L2060.7 692.9L2061 715.6L2061.3 711.4L2061.6 673L2061.9 638.9L2062.1 635.4L2062.4 689.5L2062.7 672.2L2063 687.4L2063.3 681L2063.5 674L2063.8 660.6L2064.1 717.6L2064.4 637.2L2064.7 689.9L2065 713.8L2065.2 623L2065.5 711.9L2065.8 688.5L2066.1 708L2066.4 655.3L2066.7 762.3L2066.9 679.2L2067.2 732.7L2067.5 646L2067.8 631.3L2068.1 665.7L2068.4 711.3L2068.6 657.8L2068.9 629.6L2069.2 683.5L2069.5 701.1L2069.8 650.4L2070 728L2070.3 699.6L2070.6 693.2L2070.9 688.6L2071.2 661.7L2071.5 696.6L2071.7 723.2L2072 731.7L2072.3 697.2L2072.6 680.6L2072.9 667.1L2073.2 676.8L2073.4 732.2L2073.7 678.6L2074 712.8L2074.3 658.9L2074.6 703.4L2074.8 703L2075.1 710.8L2075.4 668.6L2075.7 698.9L2076 620.2L2076.3 664.1L2076.5 728.7L2076.8 697.6L2077.1 668L2077.4 675.1L2077.7 680.4L2078 690.6L2078.2 740L2078.5 739.1L2078.8 675.7L2079.1 715.5L2079.4 697.8L2079.6 681L2079.9 750.7L2080.2 751L2080.5 684.5L2080.8 715.5L2081.1 709.3L2081.3 668.6L2081.6 707.5L2081.9 702L2082.2 692.6L2082.5 748.4L2082.8 653.4L2083 690.1L2083.3 716.5L2083.6 670.5L2083.9 727.5L2084.2 721.2L2084.4 736.3L2084.7 709L2085 723.4L2085.3 696L2085.6 721.8L2085.9 696.5L2086.1 691.9L2086.4 693.4L2086.7 694.1L2087 702.4L2087.3 727.5L2087.6 759.6L2087.8 695.7L2088.1 744.1L2088.4 696.6L2088.7 707.5L2089 707.7L2089.2 706.5L2089.5 691.2L2089.8 733.8L2090.1 698.8L2090.4 678.1L2090.7 686.4L2090.9 678L2091.2 716.1L2091.5 711L2091.8 657.8L2092.1 695.5L2092.4 702.5L2092.6 682.5L2092.9 734L2093.2 714.1L2093.5 698.7L2093.8 712.7L2094.1 670.1L2094.3 699.7L2094.6 687.8L2094.9 734.7L2095.2 712.8L2095.5 713.6L2095.7 699L2096 700.2L2096.3 713.7L2096.6 698.3L2096.9 657.4L2097.2 713.9L2097.4 732.8L2097.7 682.5L2098 675.3L2098.3 710.9L2098.6 690.1L2098.9 772.1L2099.1 704.1L2099.4 722.2L2099.7 657.7L2100 711.6L2100.3 668.3L2100.5 723.5L2100.8 726.3L2101.1 733.6L2101.4 751.2L2101.7 735.2L2102 690.2L2102.2 761.9L2102.5 718.2L2102.8 691L2103.1 714.5L2103.4 707.7L2103.7 712.8L2103.9 708.3L2104.2 774.4L2104.5 682.5L2104.8 713.6L2105.1 738.6L2105.3 732L2105.6 728L2105.9 706.2L2106.2 756.6L2106.5 759.1L2106.8 760.8L2107 701.6L2107.3 750.6L2107.6 723L2107.9 757.5L2108.2 728.7L2108.5 740.6L2108.7 747.3L2109 697.5L2109.3 725.4L2109.6 754.1L2109.9 664.2L2110.1 754.2L2110.4 760.7L2110.7 774.6L2111 686.4L2111.3 724.4L2111.6 721.2L2111.8 700.9L2112.1 727.3L2112.4 711.5L2112.7 686.1L2113 724.5L2113.3 709.8L2113.5 726.1L2113.8 728.1L2114.1 693.9L2114.4 716.7L2114.7 725.1L2115 783.6L2115.2 757L2115.5 751.7L2115.8 734L2116.1 723.6L2116.4 729.7L2116.6 738.5L2116.9 725.2L2117.2 725.1L2117.5 710.8L2117.8 782.6L2118.1 708L2118.3 683.2L2118.6 705.2L2118.9 747.4L2119.2 760.2L2119.5 738L2119.8 700.6L2120 729.5L2120.3 790.9L2120.6 825.6L2120.9 732.1L2121.2 674.2L2121.4 780.7L2121.7 755.4L2122 738.2L2122.3 730.8L2122.6 716L2122.9 782.3L2123.1 737.1L2123.4 757.8L2123.7 718.3L2124 730.5L2124.3 711.2L2124.6 774L2124.8 771.3L2125.1 760.9L2125.4 754.7L2125.7 761.5L2126 776.2L2126.2 758.4L2126.5 786.6L2126.8 716.9L2127.1 756.7L2127.4 777.8L2127.7 739.5L2127.9 787.4L2128.2 734.8L2128.5 754.2L2128.8 698.7L2129.1 730.8L2129.4 766.3L2129.6 721.8L2129.9 742.5L2130.2 728.4L2130.5 828.6L2130.8 758.7L2131 758.7L2131.3 712.6L2131.6 776.1L2131.9 738.1L2132.2 752.3L2132.5 784.9L2132.7 763.2L2133 733.8L2133.3 754L2133.6 753.4L2133.9 751.1L2134.2 746.9L2134.4 741.1L2134.7 751.9L2135 789.3L2135.3 756L2135.6 748.2L2135.8 707L2136.1 777.8L2136.4 709.6L2136.7 766L2137 709.4L2137.3 806.9L2137.5 760L2137.8 815.3L2138.1 791.7L2138.4 765.1L2138.7 740.8L2139 774.6L2139.2 747.7L2139.5 776.4L2139.8 711.9L2140.1 770.5L2140.4 703L2140.7 707.6L2140.9 780L2141.2 742.1L2141.5 768.7L2141.8 717.6L2142.1 748.2L2142.3 708.6L2142.6 762.2L2142.9 765.5L2143.2 778.6L2143.5 754.6L2143.8 747.3L2144 756.9L2144.3 750.9L2144.6 739.1L2144.9 761.4L2145.2 776.7L2145.5 786.5L2145.7 775L2146 769.2L2146.3 733.5L2146.6 736.4L2146.9 780.2L2147.1 745.3L2147.4 785.3L2147.7 739.4L2148 804.6L2148.3 735.9L2148.6 766.8L2148.8 755.8L2149.1 765.3L2149.4 790.5L2149.7 759.5L2150 762.7L2150.3 743.1L2150.5 746.7L2150.8 730.8L2151.1 748.8L2151.4 793.9L2151.7 743.2L2151.9 795.8L2152.2 783.1L2152.5 762.5L2152.8 786.4L2153.1 774.9L2153.4 737.9L2153.6 780.8L2153.9 788.6L2154.2 799.1L2154.5 690.1L2154.8 776.9L2155.1 764.2L2155.3 763.9L2155.6 735.7L2155.9 780.3L2156.2 789.1L2156.5 775.5L2156.7 786.1L2157 803.4L2157.3 815.3L2157.6 764.5L2157.9 776.9L2158.2 728.9L2158.4 779.5L2158.7 775.3L2159 733.8L2159.3 810.6L2159.6 745.3L2159.9 788L2160.1 796.2L2160.4 756.3L2160.7 763L2161 796.3L2161.3 759.8L2161.6 725.4L2161.8 744.8L2162.1 763.3L2162.4 781.2L2162.7 768.9L2163 754L2163.2 772.6L2163.5 754.6L2163.8 741L2164.1 805.9L2164.4 762.4L2164.7 753.6L2164.9 774L2165.2 784L2165.5 727.2L2165.8 769.3L2166.1 769.4L2166.4 781.4L2166.6 775.1L2166.9 775.1L2167.2 769.9L2167.5 806.8L2167.8 809.8L2168 783.8L2168.3 776.4L2168.6 782.7L2168.9 748.8L2169.2 768.5L2169.5 748.7L2169.7 761.7L2170 826.7L2170.3 755.3L2170.6 729.7L2170.9 763.9L2171.2 769.5L2171.4 798.2L2171.7 761.6L2172 795.3L2172.3 814.1L2172.6 762.1L2172.8 746.1L2173.1 775.6L2173.4 772.7L2173.7 785.9L2174 726.2L2174.3 758.2L2174.5 777.3L2174.8 776.1L2175.1 764.8L2175.4 739.5L2175.7 782.7L2176 791.8L2176.2 760.3L2176.5 771.8L2176.8 807.2L2177.1 772L2177.4 776.9L2177.6 779.4L2177.9 764.9L2178.2 762.6L2178.5 724.7L2178.8 752.4L2179.1 746.8L2179.3 780.8L2179.6 768.8L2179.9 786.6L2180.2 787.3L2180.5 747.2L2180.8 712L2181 750.8L2181.3 758.4L2181.6 755.1L2181.9 748.2L2182.2 771.2L2182.4 770.8L2182.7 752.8L2183 727.1L2183.3 767.2L2183.6 812.8L2183.9 748.8L2184.1 764L2184.4 790.1L2184.7 791.2L2185 852.4L2185.3 789.7L2185.6 775.2L2185.8 756.2L2186.1 771L2186.4 795.5L2186.7 780.4L2187 768.5L2187.3 754.3L2187.5 762.1L2187.8 747.4L2188.1 820.1L2188.4 764.4L2188.7 762.2L2188.9 794.5L2189.2 764.5L2189.5 783.4L2189.8 801.7L2190.1 803.8L2190.4 755.7L2190.6 754.7L2190.9 741.3L2191.2 750.2L2191.5 757.2L2191.8 797.9L2192.1 775.1L2192.3 777.1L2192.6 717.2L2192.9 792.7L2193.2 803.8L2193.5 796.3L2193.7 743.6L2194 786.7L2194.3 750.9L2194.6 783.5L2194.9 743.1L2195.2 810.5L2195.4 782L2195.7 754.6L2196 776.4L2196.3 793.9L2196.6 732.8L2196.9 807.3L2197.1 792.8L2197.4 740.8L2197.7 725.9L2198 770.8L2198.3 803.6L2198.5 804.3L2198.8 793.4L2199.1 773.3L2199.4 736L2199.7 747.2L2200 745.8L2200.2 784.1L2200.5 751.7L2200.8 750.3L2201.1 749.1L2201.4 771.7L2201.7 782L2201.9 742.3L2202.2 730.4L2202.5 777.3L2202.8 762.3L2203.1 743L2203.3 731.7L2203.6 725.7L2203.9 770.9L2204.2 738.5L2204.5 803.2L2204.8 829.4L2205 783.2L2205.3 763L2205.6 811.5L2205.9 776.2L2206.2 767.8L2206.5 773.1L2206.7 765.5L2207 743.5L2207.3 779.6L2207.6 785L2207.9 758.8L2208.2 745.3L2208.4 784.6L2208.7 737.7L2209 754.1L2209.3 783.4L2209.6 774.5L2209.8 794.2L2210.1 756L2210.4 771.3L2210.7 722.3L2211 841.4L2211.3 806L2211.5 787.7L2211.8 760.8L2212.1 784L2212.4 793.3L2212.7 763.8L2213 785.9L2213.2 768.7L2213.5 751.8L2213.8 749.8L2214.1 815.8L2214.4 794.6L2214.6 764.1L2214.9 780.3L2215.2 795.7L2215.5 760.1L2215.8 773.7L2216.1 764.3L2216.3 752.9L2216.6 786L2216.9 749.8L2217.2 771.7L2217.5 769.6L2217.8 750L2218 818.4L2218.3 819.6L2218.6 806.6L2218.9 754.9L2219.2 774.1L2219.4 791.6L2219.7 804.3L2220 821.5L2220.3 770.1L2220.6 778.4L2220.9 768.1L2221.1 754.5L2221.4 770.9L2221.7 743.4L2222 788.9L2222.3 739.8L2222.6 767.7L2222.8 792.6L2223.1 774.3L2223.4 723.2L2223.7 811.4L2224 794.8L2224.2 790.3L2224.5 775.2L2224.8 778.1L2225.1 731.8L2225.4 785.2L2225.7 763L2225.9 793.2L2226.2 808.8L2226.5 784.3L2226.8 786.9L2227.1 763.3L2227.4 746.9L2227.6 792.5L2227.9 753.1L2228.2 807.2L2228.5 736.5L2228.8 819.1L2229 794.6L2229.3 775.3L2229.6 791.4L2229.9 810.9L2230.2 764.1L2230.5 807.8L2230.7 757.7L2231 819.8L2231.3 756.1L2231.6 761.6L2231.9 769.5L2232.2 756.2L2232.4 788.3L2232.7 784.6L2233 753.8L2233.3 810L2233.6 790.4L2233.9 789.2L2234.1 789.6L2234.4 791L2234.7 846.4L2235 784.7L2235.3 777.3L2235.5 752.9L2235.8 764.5L2236.1 799.9L2236.4 791.9L2236.7 808.9L2237 794.3L2237.2 800.8L2237.5 757.5L2237.8 775.7L2238.1 770.3L2238.4 795.1L2238.7 789.6L2238.9 772.6L2239.2 806.1L2239.5 772.6L2239.8 763.7L2240.1 800.7L2240.3 786.1L2240.6 807.8L2240.9 743.8L2241.2 774.7L2241.5 758.3L2241.8 791.7L2242 808.4L2242.3 788.5L2242.6 750.9L2242.9 744.7L2243.2 766.2L2243.5 786.5L2243.7 775.8L2244 758.5L2244.3 812.3L2244.6 763.6L2244.9 807L2245.1 779.5L2245.4 767.6L2245.7 779L2246 783.7L2246.3 753.4L2246.6 796.4L2246.8 795.2L2247.1 809.9L2247.4 781.6L2247.7 767.3L2248 789.3L2248.3 835.1L2248.5 775.4L2248.8 770.7L2249.1 808.5L2249.4 792.7L2249.7 786.1L2249.9 806.5L2250.2 780.2L2250.5 784.9L2250.8 816.5L2251.1 857.1L2251.4 810.8L2251.6 751.6L2251.9 757.1L2252.2 795.7L2252.5 814.9L2252.8 751.1L2253.1 770.1L2253.3 756.3L2253.6 740.9L2253.9 776.8L2254.2 785.9L2254.5 807.5L2254.8 784.6L2255 813.5L2255.3 761.2L2255.6 794L2255.9 748.4L2256.2 797.2L2256.4 777.4L2256.7 808.5L2257 766.4L2257.3 809.7L2257.6 755.8L2257.9 774.9L2258.1 835.7L2258.4 824.2L2258.7 783L2259 790.6L2259.3 738.4L2259.6 811.7L2259.8 794.6L2260.1 789.4L2260.4 783.5L2260.7 745.5L2261 791.7L2261.2 830.1L2261.5 749.5L2261.8 778.8L2262.1 827.6L2262.4 806.7L2262.7 797.7L2262.9 786.5L2263.2 769.4L2263.5 796L2263.8 803.3L2264.1 814.8L2264.4 794.3L2264.6 788.2L2264.9 778.3L2265.2 845.3L2265.5 812.9L2265.8 778.2L2266 747.3L2266.3 767.3L2266.6 848.7L2266.9 840L2267.2 776.2L2267.5 789.6L2267.7 789.1L2268 740.4L2268.3 817.9L2268.6 760L2268.9 788.1L2269.2 806L2269.4 844.3L2269.7 821.1L2270 752.2L2270.3 788.8L2270.6 770.6L2270.8 776.4L2271.1 795.3L2271.4 769.9L2271.7 783.2L2272 796.1L2272.3 799.6L2272.5 810.1L2272.8 784.2L2273.1 796.3L2273.4 763.2L2273.7 799.6L2274 814.9L2274.2 839.3L2274.5 772.4L2274.8 728L2275.1 792.7L2275.4 848.5L2275.6 768.1L2275.9 809L2276.2 774.2L2276.5 782.7L2276.8 773.8L2277.1 788.9L2277.3 799L2277.6 764.8L2277.9 799.6L2278.2 762.2L2278.5 807.5L2278.8 788.4L2279 811.3L2279.3 768.6L2279.6 809.6L2279.9 813.3L2280.2 768.2L2280.5 783.8L2280.7 794.7L2281 817.8L2281.3 793.8L2281.6 782.4L2281.9 775.7L2282.1 810.8L2282.4 780L2282.7 841.1L2283 791.2L2283.3 816.1L2283.6 774.6L2283.8 803.8L2284.1 734.4L2284.4 789L2284.7 784.8L2285 850.8L2285.3 828.3L2285.5 767.2L2285.8 810.5L2286.1 764.9L2286.4 811.4L2286.7 777.8L2286.9 813.8L2287.2 782.3L2287.5 776.3L2287.8 770.5L2288.1 812.3L2288.4 826.6L2288.6 779.3L2288.9 787.8L2289.2 776.4L2289.5 824.4L2289.8 774.5L2290.1 797.9L2290.3 820.9L2290.6 805.1L2290.9 770.1L2291.2 789.3L2291.5 789.8L2291.7 791.4L2292 803.5L2292.3 762.2L2292.6 792.8L2292.9 830.4L2293.2 830.3L2293.4 807.6L2293.7 803.2L2294 774.8L2294.3 860.1L2294.6 774L2294.9 763.5L2295.1 805.7L2295.4 761.5L2295.7 811L2296 797.8L2296.3 806.3L2296.5 752.5L2296.8 763.9L2297.1 765.4L2297.4 822.8L2297.7 791L2298 822.8L2298.2 789.5L2298.5 779.1L2298.8 758.2L2299.1 797.2L2299.4 787.5L2299.7 797.1L2299.9 821.1L2300.2 750.7L2300.5 783.6L2300.8 756.2L2301.1 771.8L2301.4 826.4L2301.6 809.6L2301.9 775.8L2302.2 771.4L2302.5 775.8L2302.8 793.5L2303 771.3L2303.3 819.1L2303.6 800L2303.9 823.6L2304.2 768L2304.5 784L2304.7 775.4L2305 800.6L2305.3 859.6L2305.6 814.3L2305.9 789.8L2306.2 792.4L2306.4 770L2306.7 764.8L2307 808.4L2307.3 773.5L2307.6 838.9L2307.8 776.6L2308.1 848.8L2308.4 780.9L2308.7 853.3L2309 781.1L2309.3 752.5L2309.5 798.4L2309.8 775.7L2310.1 765L2310.4 864.2L2310.7 844.4L2311 793.6L2311.2 822.6L2311.5 804.7L2311.8 722.8L2312.1 745.3L2312.4 777L2312.6 811.5L2312.9 779.5L2313.2 784.5L2313.5 797.9L2313.8 750.2L2314.1 843.9L2314.3 752L2314.6 804.7L2314.9 759.1L2315.2 797.1L2315.5 808.7L2315.8 811.2L2316 786.7L2316.3 784.2L2316.6 713.6L2316.9 751.4L2317.2 794.5L2317.4 825.6L2317.7 790.9L2318 778.2L2318.3 838.3L2318.6 793.2L2318.9 759.2L2319.1 805.7L2319.4 835.9L2319.7 773.3L2320 750.6L2320.3 798.8L2320.6 788.9L2320.8 762.2L2321.1 778.8L2321.4 811.5L2321.7 802.2L2322 795.3L2322.2 793L2322.5 762L2322.8 820.3L2323.1 782.5L2323.4 797.1L2323.7 848.2L2323.9 773.5L2324.2 789.3L2324.5 827.4L2324.8 840.3L2325.1 768L2325.4 748.3L2325.6 790.7L2325.9 799L2326.2 773.7L2326.5 810.6L2326.8 807L2327.1 767.7L2327.3 823.6L2327.6 762.5L2327.9 785.1L2328.2 758.2L2328.5 842.5L2328.7 758.5L2329 795.6L2329.3 776.1L2329.6 814.7L2329.9 820.3L2330.2 762.2L2330.4 780.1L2330.7 778.1L2331 774.5L2331.3 776.4L2331.6 834.8L2331.9 800.8L2332.1 801.7L2332.4 738.7L2332.7 756.6L2333 815.9L2333.3 832.1L2333.5 772.9L2333.8 776.6L2334.1 755.1L2334.4 822.7L2334.7 747.1L2335 786.3L2335.2 757L2335.5 783.8L2335.8 802.4L2336.1 812.4L2336.4 754.5L2336.7 877.1L2336.9 761.7L2337.2 772.3L2337.5 809.3L2337.8 769.9L2338.1 793.9L2338.3 825.3L2338.6 798.1L2338.9 774.6L2339.2 789.1L2339.5 810.7L2339.8 771.8L2340 770.2L2340.3 757.2L2340.6 784L2340.9 749.5L2341.2 809L2341.5 801.4L2341.7 828L2342 791.5L2342.3 788L2342.6 790.3L2342.9 823.9L2343.1 762L2343.4 834.9L2343.7 814.5L2344 868.9L2344.3 761L2344.6 767.5L2344.8 794.1L2345.1 779.9L2345.4 822.1L2345.7 817.7L2346 814.7L2346.3 779.7L2346.5 798.7L2346.8 783.3L2347.1 816.8L2347.4 824.2L2347.7 776.2L2347.9 779.7L2348.2 775.5L2348.5 804.3L2348.8 779.7L2349.1 829L2349.4 816.3L2349.6 777.8L2349.9 812.1L2350.2 819.3L2350.5 811.6L2350.8 741.1L2351.1 797.4L2351.3 777.3L2351.6 789.8L2351.9 719.5L2352.2 787.8L2352.5 756.2L2352.8 758.9L2353 772.6L2353.3 783.7L2353.6 824.9L2353.9 768.3L2354.2 724.2L2354.4 768.5L2354.7 727.6L2355 763.1L2355.3 757.5L2355.6 795.1L2355.9 785.7L2356.1 768.9L2356.4 751.2L2356.7 809.5L2357 820.4L2357.3 784.5L2357.6 784.4L2357.8 768.6L2358.1 734.8L2358.4 796.2L2358.7 730.2L2359 765.3L2359.2 780L2359.5 826.1L2359.8 740L2360.1 732.2L2360.4 767.1L2360.7 766.3L2360.9 791.6L2361.2 832.3L2361.5 801.6L2361.8 819.2L2362.1 817.2L2362.4 802.8L2362.6 795.7L2362.9 766L2363.2 744.5L2363.5 785.7L2363.8 758.2L2364 789.3L2364.3 788.2L2364.6 770.5L2364.9 796.7L2365.2 773.1L2365.5 792.9L2365.7 803.2L2366 797.8L2366.3 738.6L2366.6 773L2366.9 791.9L2367.2 774.9L2367.4 800.2L2367.7 792.4L2368 789.4L2368.3 825L2368.6 784.2L2368.8 768L2369.1 772.4L2369.4 783.7L2369.7 751.3L2370 801.9L2370.3 749.9L2370.5 753.6L2370.8 774.2L2371.1 739L2371.4 800.9L2371.7 773L2372 783.6L2372.2 800.2L2372.5 788.3L2372.8 768.9L2373.1 768.9L2373.4 762.8L2373.7 797.4L2373.9 782.4L2374.2 782.7L2374.5 797.2L2374.8 780L2375.1 836.4L2375.3 810.7L2375.6 793L2375.9 789.8L2376.2 762.6L2376.5 794.6L2376.8 735.1L2377 818.8L2377.3 731" fill="none" stroke="#0072BD" stroke-width="6" stroke-linejoin="round" stroke-linecap="butt"/>
<path d="M1530.3 769.6L1530.6 825.8L1530.9 812.8L1531.2 803L1531.5 834.1L1531.7 813.5L1532 813.6L1532.3 859.2L1532.6 787L1532.9 797.8L1533.2 829.7L1533.4 817.8L1533.7 800.2L1534 820.1L1534.3 819.5L1534.6 851L1534.9 798.6L1535.1 809.8L1535.4 805.8L1535.7 852.6L1536 769.8L1536.3 808.7L1536.5 822.7L1536.8 759.7L1537.1 813.6L1537.4 850.1L1537.7 822.8L1538 871.7L1538.2 784.7L1538.5 822.7L1538.8 831.1L1539.1 783.7L1539.4 854.5L1539.7 797.5L1539.9 865L1540.2 828.4L1540.5 842.3L1540.8 772.8L1541.1 764.7L1541.3 819.1L1541.6 788.5L1541.9 814.9L1542.2 795.3L1542.5 829.5L1542.8 854.2L1543 856.5L1543.3 799.4L1543.6 750.7L1543.9 802L1544.2 822.5L1544.5 758.9L1544.7 802.3L1545 805.6L1545.3 801.5L1545.6 811.3L1545.9 815.7L1546.1 844.8L1546.4 794.2L1546.7 809.5L1547 775.7L1547.3 816.2L1547.6 856L1547.8 808.7L1548.1 761.6L1548.4 815.6L1548.7 828.6L1549 836.2L1549.3 832.2L1549.5 812.5L1549.8 835.1L1550.1 765.2L1550.4 811.2L1550.7 800.8L1551 765.9L1551.2 764L1551.5 808.3L1551.8 793.9L1552.1 783.1L1552.4 807L1552.6 848L1552.9 784.4L1553.2 777.8L1553.5 790L1553.8 824.5L1554.1 805.3L1554.3 815.3L1554.6 807.4L1554.9 765.5L1555.2 759.2L1555.5 781.2L1555.8 784.1L1556 780.4L1556.3 798L1556.6 799.3L1556.9 814.6L1557.2 798.1L1557.4 737.5L1557.7 773.4L1558 804.6L1558.3 807.6L1558.6 817.5L1558.9 784.9L1559.1 784.1L1559.4 831.6L1559.7 780.9L1560 808.1L1560.3 755.6L1560.6 788.4L1560.8 747.2L1561.1 803.7L1561.4 798.9L1561.7 783.1L1562 763L1562.2 775.4L1562.5 822.1L1562.8 784.6L1563.1 788.4L1563.4 799.9L1563.7 805.2L1563.9 742.1L1564.2 797.6L1564.5 809.2L1564.8 769.9L1565.1 782.7L1565.4 787.6L1565.6 764.5L1565.9 771.6L1566.2 774.2L1566.5 757.6L1566.8 774.7L1567 797.5L1567.3 790L1567.6 793.2L1567.9 773L1568.2 805.9L1568.5 824.7L1568.7 773L1569 809.4L1569.3 824.5L1569.6 761.8L1569.9 789.3L1570.2 756L1570.4 781.9L1570.7 796.2L1571 798L1571.3 777.2L1571.6 769.3L1571.8 782.5L1572.1 766.5L1572.4 798.4L1572.7 755.4L1573 802.2L1573.3 757.7L1573.5 732.2L1573.8 719.9L1574.1 701.4L1574.4 787.6L1574.7 723.5L1575 709.7L1575.2 713.9L1575.5 763.6L1575.8 725.6L1576.1 684.5L1576.4 773.6L1576.7 718.2L1576.9 699L1577.2 746.3L1577.5 709.5L1577.8 752.7L1578.1 743.7L1578.3 742L1578.6 712.4L1578.9 718.3L1579.2 687.7L1579.5 737.7L1579.8 713.5L1580 681.5L1580.3 690.6L1580.6 740.6L1580.9 683.8L1581.2 713.4L1581.5 687.6L1581.7 688L1582 660.6L1582.3 689.3L1582.6 742.2L1582.9 726.8L1583.1 666.5L1583.4 692.2L1583.7 651.3L1584 673.6L1584.3 700.4L1584.6 647.3L1584.8 698.5L1585.1 731.7L1585.4 614.3L1585.7 724.4L1586 651L1586.3 640.8L1586.5 661.4L1586.8 711.4L1587.1 633.5L1587.4 701.2L1587.7 696.8L1587.9 667.2L1588.2 632.9L1588.5 645L1588.8 628.7L1589.1 662.6L1589.4 653.1L1589.6 678.9L1589.9 653.7L1590.2 625.9L1590.5 649.6L1590.8 625.6L1591.1 653.9L1591.3 652.6L1591.6 632.7L1591.9 637.6L1592.2 613.1L1592.5 623.1L1592.7 576.2L1593 630.9L1593.3 629.3L1593.6 651L1593.9 618.4L1594.2 597.4L1594.4 636.8L1594.7 614.9L1595 590.7L1595.3 613.4L1595.6 623L1595.9 577.5L1596.1 601.3L1596.4 590.6L1596.7 566L1597 564.9L1597.3 606.8L1597.5 610.2L1597.8 584.5L1598.1 594.9L1598.4 645.1L1598.7 549.6L1599 584.8L1599.2 561.7L1599.5 616.3L1599.8 541.5L1600.1 595.3L1600.4 579.2L1600.7 615.8L1600.9 577.3L1601.2 577.3L1601.5 574.1L1601.8 553.6L1602.1 563.1L1602.4 533.9L1602.6 575.3L1602.9 589.3L1603.2 558.2L1603.5 536.9L1603.8 516.5L1604 527.6L1604.3 603.6L1604.6 537.2L1604.9 502.7L1605.2 543.1L1605.5 558.8L1605.7 532.1L1606 555L1606.3 518.6L1606.6 536.6L1606.9 492.1L1607.2 517.6L1607.4 553.1L1607.7 510.9L1608 499.1L1608.3 543.3L1608.6 537.1L1608.8 592.9L1609.1 492.8L1609.4 536.7L1609.7 582L1610 569.3L1610.3 519.9L1610.5 487.7L1610.8 511.9L1611.1 492.6L1611.4 539.2L1611.7 544.7L1612 473.8L1612.2 484L1612.5 498.2L1612.8 455.4L1613.1 522.8L1613.4 504.2L1613.6 457.1L1613.9 429.7L1614.2 484.8L1614.5 430.5L1614.8 499.8L1615.1 468.6L1615.3 482.3L1615.6 524.7L1615.9 464.7L1616.2 441.5L1616.5 473.5L1616.8 469L1617 420.9L1617.3 502.3L1617.6 508.3L1617.9 479.7L1618.2 494.9L1618.4 412.4L1618.7 443.4L1619 478.8L1619.3 469L1619.6 356.5L1619.9 465.3L1620.1 468.4L1620.4 432.6L1620.7 420.2L1621 431.8L1621.3 466.3L1621.6 472.7L1621.8 414.8L1622.1 434.1L1622.4 483.6L1622.7 391.7L1623 402.9L1623.3 434.2L1623.5 433.5L1623.8 416.3L1624.1 444.6L1624.4 464.7L1624.7 409.5L1624.9 465.3L1625.2 405L1625.5 463.3L1625.8 418.8L1626.1 419L1626.4 355.9L1626.6 447.3L1626.9 457.9L1627.2 432.2L1627.5 447.1L1627.8 429.1L1628.1 395.7L1628.3 383.7L1628.6 354.4L1628.9 431.9L1629.2 321.9L1629.5 342.9L1629.7 413.7L1630 481.4L1630.3 409.3L1630.6 403.9L1630.9 480.8L1631.2 403.3L1631.4 412L1631.7 430.8L1632 384.6L1632.3 372L1632.6 420.3L1632.9 396.7L1633.1 425.3L1633.4 429.3L1633.7 400.9L1634 386.2L1634.3 421.4L1634.5 474.9L1634.8 383.4L1635.1 454.4L1635.4 398.1L1635.7 343.9L1636 402.2L1636.2 440.3L1636.5 448.9L1636.8 362.8L1637.1 401.4L1637.4 383L1637.7 370.2L1637.9 401.9L1638.2 410.1L1638.5 430.8L1638.8 500.4L1639.1 449.1L1639.3 401.6L1639.6 404.9L1639.9 385.8L1640.2 403L1640.5 393.5L1640.8 372.8L1641 427.3L1641.3 407.6L1641.6 450.6L1641.9 366.2L1642.2 396.6L1642.5 381.7L1642.7 347.1L1643 362.2L1643.3 399.3L1643.6 371.5L1643.9 443.9L1644.1 382.8L1644.4 392.3L1644.7 449.7L1645 353L1645.3 419.6L1645.6 374.2L1645.8 410.2L1646.1 363.9L1646.4 353.4L1646.7 423.4L1647 446.2L1647.3 400.4L1647.5 368.3L1647.8 408.1L1648.1 416L1648.4 379.9L1648.7 486.2L1649 417.6L1649.2 441.1L1649.5 386.1L1649.8 419.9L1650.1 432.2L1650.4 407.3L1650.6 443.8L1650.9 396.2L1651.2 418.1L1651.5 408.1L1651.8 419.2L1652.1 365.9L1652.3 399.4L1652.6 378.7L1652.9 380.2L1653.2 422.3L1653.5 377.3L1653.8 384.6L1654 385.8L1654.3 409.2L1654.6 410.2L1654.9 370.6L1655.2 325L1655.4 423.6L1655.7 379.1L1656 408.6L1656.3 371.1L1656.6 382.5L1656.9 362.3L1657.1 488.4L1657.4 416.8L1657.7 429.6L1658 400.9L1658.3 421.2L1658.6 418.6L1658.8 375.5L1659.1 335.8L1659.4 490.4L1659.7 408.4L1660 388.2L1660.2 398.4L1660.5 410L1660.8 443.1L1661.1 429.8L1661.4 375.5L1661.7 364.2L1661.9 396.4L1662.2 427L1662.5 396.8L1662.8 407.9L1663.1 382.5L1663.4 396.6L1663.6 420.9L1663.9 394.6L1664.2 439.5L1664.5 374.5L1664.8 362.9L1665 440.1L1665.3 388.1L1665.6 434.4L1665.9 367.3L1666.2 373L1666.5 410.2L1666.7 370.5L1667 417.2L1667.3 424.3L1667.6 422.1L1667.9 408.4L1668.2 414.6L1668.4 399.3L1668.7 424.6L1669 379.9L1669.3 371.8L1669.6 421.4L1669.9 452L1670.1 382.2L1670.4 368.9L1670.7 411.5L1671 448.3L1671.3 398L1671.5 357.4L1671.8 468.3L1672.1 391.9L1672.4 417.9L1672.7 435.8L1673 392.1L1673.2 450.8L1673.5 399.3L1673.8 366.6L1674.1 403.9L1674.4 438.5L1674.7 468.2L1674.9 452.5L1675.2 471.1L1675.5 359.8L1675.8 420.3L1676.1 446.6L1676.3 455.3L1676.6 448.3L1676.9 425.1L1677.2 456.3L1677.5 361L1677.8 440.1L1678 441.8L1678.3 407.1L1678.6 370.8L1678.9 375.5L1679.2 434.7L1679.5 411.4L1679.7 415.4L1680 403.8L1680.3 413.4L1680.6 452.8L1680.9 463.6L1681.1 418L1681.4 462.6L1681.7 381.2L1682 424.6L1682.3 459.6L1682.6 437.7L1682.8 444.4L1683.1 433.1L1683.4 399.2L1683.7 476.8L1684 491.1L1684.3 421.1L1684.5 438.4L1684.8 428.2L1685.1 420L1685.4 440.9L1685.7 410.2L1685.9 465.2L1686.2 435.4L1686.5 464.8L1686.8 475.2L1687.1 420.2L1687.4 422.4L1687.6 503.5L1687.9 478.1L1688.2 433.7L1688.5 409.7L1688.8 465.9L1689.1 451.3L1689.3 491.3L1689.6 367L1689.9 432.7L1690.2 420.1L1690.5 428.4L1690.7 420.5L1691 431.6L1691.3 462.3L1691.6 428.8L1691.9 450.7L1692.2 412.8L1692.4 478L1692.7 472.6L1693 435.2L1693.3 416.3L1693.6 453L1693.9 480.9L1694.1 462.7L1694.4 475.4L1694.7 400.4L1695 432.7L1695.3 421.8L1695.6 452.9L1695.8 480.7L1696.1 426.8L1696.4 412.4L1696.7 446.9L1697 466.7L1697.2 432.6L1697.5 479.1L1697.8 444L1698.1 491.2L1698.4 500L1698.7 452.4L1698.9 460.3L1699.2 411.7L1699.5 481.1L1699.8 472.3L1700.1 509.5L1700.4 533.1L1700.6 531L1700.9 461.3L1701.2 513.5L1701.5 441.9L1701.8 433.4L1702 487.6L1702.3 427.4L1702.6 473L1702.9 445.6L1703.2 488.6L1703.5 452.3L1703.7 512.5L1704 464.2L1704.3 498.8L1704.6 489.2L1704.9 466.2L1705.2 481.2L1705.4 489.7L1705.7 465.4L1706 463.8L1706.3 532.7L1706.6 472.9L1706.8 470.2L1707.1 515.2L1707.4 480.5L1707.7 534.5L1708 449.3L1708.3 502.2L1708.5 498L1708.8 459.1L1709.1 501.5L1709.4 479.3L1709.7 531.1L1710 517L1710.2 543.3L1710.5 507.4L1710.8 469.8L1711.1 495.6L1711.4 475.9L1711.6 535.8L1711.9 532.1L1712.2 520L1712.5 488.8L1712.8 496.2L1713.1 508.5L1713.3 489.7L1713.6 514.3L1713.9 511.1L1714.2 471.1L1714.5 530.2L1714.8 507.3L1715 464.2L1715.3 511.5L1715.6 493.7L1715.9 534.9L1716.2 457.1L1716.5 587L1716.7 553.7L1717 552.1L1717.3 471L1717.6 510.8L1717.9 530.5L1718.1 562.6L1718.4 513.2L1718.7 521.8L1719 547.4L1719.3 572.7L1719.6 561.7L1719.8 522.5L1720.1 520.5L1720.4 528.8L1720.7 536.6L1721 586.8L1721.3 532.4L1721.5 566.3L1721.8 534.6L1722.1 522.8L1722.4 558.4L1722.7 569.9L1722.9 509.8L1723.2 530.3L1723.5 561.2L1723.8 633.8L1724.1 545.5L1724.4 526L1724.6 512.1L1724.9 567.5L1725.2 567.5L1725.5 562.4L1725.8 524.8L1726.1 586.5L1726.3 555.5L1726.6 581L1726.9 546.1L1727.2 601.9L1727.5 544.9L1727.7 572.2L1728 565L1728.3 543.5L1728.6 526L1728.9 612.1L1729.2 532.2L1729.4 546.6L1729.7 573.1L1730 523.3L1730.3 560.6L1730.6 528.6L1730.9 585.9L1731.1 595.1L1731.4 533.7L1731.7 506.7L1732 553.2L1732.3 546.5L1732.5 588.1L1732.8 614.3L1733.1 582.6L1733.4 532.2L1733.7 633L1734 593.3L1734.2 636.3L1734.5 577.2L1734.8 555.4L1735.1 619L1735.4 595.2L1735.7 544.7L1735.9 587.4L1736.2 622.2L1736.5 625.3L1736.8 646.8L1737.1 565.3L1737.3 610.9L1737.6 558.7L1737.9 564.9L1738.2 610.7L1738.5 607.6L1738.8 569.9L1739 589.3L1739.3 586.6L1739.6 643.6L1739.9 569.6L1740.2 622.5L1740.5 664.2L1740.7 616.4L1741 586.7L1741.3 538.3L1741.6 611.5L1741.9 640.3L1742.2 539.9L1742.4 598.2L1742.7 611.2L1743 635.8L1743.3 634.4L1743.6 562.6L1743.8 614.5L1744.1 623L1744.4 622.9L1744.7 563L1745 626.6L1745.3 591.9L1745.5 603.1L1745.8 604.6L1746.1 637.9L1746.4 593.9L1746.7 567L1747 616L1747.2 641.9L1747.5 653.4L1747.8 611L1748.1 625.1L1748.4 621L1748.6 618.3L1748.9 662.1L1749.2 597.4L1749.5 613.9L1749.8 623.5L1750.1 615.3L1750.3 595.9L1750.6 621.8L1750.9 648.6L1751.2 591L1751.5 637.9L1751.8 647L1752 671.8L1752.3 627.1L1752.6 658.3L1752.9 643.7L1753.2 616.4L1753.4 629L1753.7 601.4L1754 622.5L1754.3 643.5L1754.6 642.1L1754.9 647.8L1755.1 615.3L1755.4 633.9L1755.7 646.9L1756 611.5L1756.3 633.6L1756.6 650.4L1756.8 681L1757.1 625.7L1757.4 632L1757.7 638L1758 652.5L1758.2 664.6L1758.5 647.8L1758.8 635.3L1759.1 646.2L1759.4 647.3L1759.7 657.2L1759.9 634.7L1760.2 638.3L1760.5 667.1L1760.8 624.5L1761.1 624.2L1761.4 624.2L1761.6 651.7L1761.9 654.1L1762.2 682.2L1762.5 628.3L1762.8 711.2L1763.1 662.1L1763.3 661.2L1763.6 627.8L1763.9 652.7L1764.2 680.7L1764.5 694.4L1764.7 675.1L1765 652L1765.3 654L1765.6 661.8L1765.9 676.1L1766.2 663.2L1766.4 629.6L1766.7 689.6L1767 658L1767.3 613.7L1767.6 644.4L1767.9 673.6L1768.1 642.5L1768.4 683L1768.7 662.1L1769 618.9L1769.3 609.9L1769.5 712.2L1769.8 644.7L1770.1 610L1770.4 681L1770.7 658.8L1771 624.1L1771.2 681.1L1771.5 655L1771.8 669.9L1772.1 723L1772.4 659.6L1772.7 675L1772.9 644.2L1773.2 612L1773.5 652.2L1773.8 682.2L1774.1 659.8L1774.3 667.3L1774.6 644.7L1774.9 714.4L1775.2 707.2L1775.5 732.4L1775.8 658.4L1776 676.5L1776.3 694.4L1776.6 697.3L1776.9 693.5L1777.2 704L1777.5 687.5L1777.7 692.8L1778 640.5L1778.3 670.9L1778.6 703.3L1778.9 697.2L1779.1 647.9L1779.4 669.2L1779.7 674.1L1780 662.7L1780.3 639L1780.6 717.7L1780.8 705L1781.1 733.3L1781.4 671.4L1781.7 696.2L1782 704.8L1782.3 707.8L1782.5 667.8L1782.8 691.5L1783.1 702.8L1783.4 653.5L1783.7 718L1783.9 724.5L1784.2 617.7L1784.5 700.5L1784.8 705.9L1785.1 711.4L1785.4 695.5L1785.6 670.4L1785.9 671.6L1786.2 677.9L1786.5 701.2L1786.8 735.3L1787.1 686.5L1787.3 652.7L1787.6 665.6L1787.9 700.4L1788.2 673.9L1788.5 707.3L1788.8 698.5L1789 731.6L1789.3 706.6L1789.6 694.4L1789.9 703.4L1790.2 677.9L1790.4 647.5L1790.7 663.5L1791 708.9L1791.3 721.1L1791.6 719.3L1791.9 728.7L1792.1 701.2L1792.4 690.9L1792.7 697.9L1793 698L1793.3 699.4L1793.6 707.9L1793.8 725.1L1794.1 657.5L1794.4 676.6L1794.7 730.8L1795 731.2L1795.2 722.8L1795.5 706.1L1795.8 672.7L1796.1 679.9L1796.4 678.8L1796.7 678.6L1796.9 678.5L1797.2 689.1L1797.5 697.2L1797.8 713.3L1798.1 758.3L1798.4 714.4L1798.6 661.7L1798.9 726.4L1799.2 729.1L1799.5 684.3L1799.8 710.4L1800 726.1L1800.3 670.6L1800.6 696.5L1800.9 693.2L1801.2 729.8L1801.5 701.1L1801.7 704.7L1802 694.1L1802.3 684.2L1802.6 685.2L1802.9 711.7L1803.2 697.9L1803.4 748.4L1803.7 699.8L1804 699.1L1804.3 728.8L1804.6 739.6L1804.8 720.5L1805.1 752.4L1805.4 710.2L1805.7 711.9L1806 746.2L1806.3 719.3L1806.5 691.8L1806.8 692.3L1807.1 694.1L1807.4 726.1L1807.7 731.6L1808 733.4L1808.2 706.9L1808.5 659.3L1808.8 685.5L1809.1 680.9L1809.4 687.7L1809.7 768.7L1809.9 730.6L1810.2 737.2L1810.5 691.8L1810.8 680.2L1811.1 744.5L1811.3 725.7L1811.6 711.9L1811.9 740.7L1812.2 744.8L1812.5 746.5L1812.8 704.3L1813 753.4L1813.3 698.1L1813.6 726.9L1813.9 709.2L1814.2 687.9L1814.5 748.3L1814.7 752.6L1815 719.1L1815.3 759L1815.6 751.1L1815.9 734.6L1816.1 727.5L1816.4 765.8L1816.7 742.7L1817 716.8L1817.3 696.4L1817.6 786.1L1817.8 697.9L1818.1 709.6L1818.4 763L1818.7 773.6L1819 722.8L1819.3 745.6L1819.5 730.8L1819.8 711.5L1820.1 744.9L1820.4 730.7L1820.7 722.4L1820.9 711.4L1821.2 688L1821.5 689.8L1821.8 729.3L1822.1 742.3L1822.4 672.1L1822.6 718.9L1822.9 724.8L1823.2 766L1823.5 715.5L1823.8 757.5L1824.1 749L1824.3 772.7L1824.6 750.8L1824.9 735.3L1825.2 777.4L1825.5 761.2L1825.7 739.3L1826 771.3L1826.3 771.1L1826.6 759.8L1826.9 775.4L1827.2 721.1L1827.4 764.4L1827.7 717.1L1828 713L1828.3 770.2L1828.6 737L1828.9 751L1829.1 768.8L1829.4 747.3L1829.7 744.9L1830 719.4L1830.3 711L1830.5 768.2L1830.8 749.6L1831.1 724.5L1831.4 707.2L1831.7 804.7L1832 704.6L1832.2 743.6L1832.5 697.9L1832.8 750.6L1833.1 761.7L1833.4 738.1L1833.7 707.9L1833.9 738.7L1834.2 803L1834.5 721.2L1834.8 783L1835.1 766.1L1835.4 771.1L1835.6 789.3L1835.9 773.6L1836.2 766.5L1836.5 756.5L1836.8 741.5L1837 749.1L1837.3 780.1L1837.6 745.1L1837.9 714L1838.2 714.7L1838.5 736.7L1838.7 723.6L1839 716.3L1839.3 703.7L1839.6 694.7L1839.9 749.1L1840.2 747.9L1840.4 700.8L1840.7 698.5L1841 699.1L1841.3 803.8L1841.6 746.6L1841.8 828.5L1842.1 721L1842.4 739.2L1842.7 739.3L1843 744.4L1843.3 705.6L1843.5 748.7L1843.8 712.9L1844.1 725.8L1844.4 731.1L1844.7 728.3L1845 737.8L1845.2 770.2L1845.5 721.4L1845.8 721.5L1846.1 744.6L1846.4 720.9L1846.6 716.4L1846.9 775.1L1847.2 744.4L1847.5 752.4L1847.8 764.8L1848.1 731.7L1848.3 763L1848.6 751.9L1848.9 733.5L1849.2 730.6L1849.5 731.3L1849.8 679.6L1850 753.4L1850.3 733L1850.6 772.2L1850.9 726.5L1851.2 708.3L1851.4 706.5L1851.7 756.3L1852 746.6L1852.3 704.8L1852.6 741.3L1852.9 712.8L1853.1 764.8L1853.4 701L1853.7 710.5L1854 725.6L1854.3 759.6L1854.6 742.1L1854.8 733.6L1855.1 730.4L1855.4 740.2L1855.7 743.1L1856 731.9L1856.3 699.2L1856.5 791L1856.8 773.6L1857.1 778.2L1857.4 754.8L1857.7 783.1L1857.9 720.9L1858.2 733.1L1858.5 742.4L1858.8 753.8L1859.1 730.9L1859.4 730.1L1859.6 725.8L1859.9 754.3L1860.2 716.8L1860.5 774L1860.8 700.2L1861.1 817.2L1861.3 749.7L1861.6 766L1861.9 711.9L1862.2 773.3L1862.5 683.5L1862.7 774.5L1863 677.5L1863.3 720.1L1863.6 731.3L1863.9 720.1L1864.2 672.2L1864.4 707.3L1864.7 791.9L1865 698.7L1865.3 724.6L1865.6 774.6L1865.9 709.9L1866.1 763.2L1866.4 725.2L1866.7 723.6L1867 747.3L1867.3 711.9L1867.5 757L1867.8 723.9L1868.1 743.7L1868.4 733.5L1868.7 676.1L1869 725L1869.2 757.4L1869.5 730.7L1869.8 748.2L1870.1 726.3L1870.4 722.3L1870.7 724.1L1870.9 723.9L1871.2 740.7L1871.5 713.3L1871.8 696.5L1872.1 741.8L1872.3 726.2L1872.6 722.6L1872.9 689.8L1873.2 694.2L1873.5 743.2L1873.8 721L1874 763.4L1874.3 748.6L1874.6 721.6L1874.9 704.4L1875.2 695.2L1875.5 729.4L1875.7 757.5L1876 709.4L1876.3 724.6L1876.6 707.9L1876.9 714.8L1877.1 699.2L1877.4 700.5L1877.7 695L1878 730.2L1878.3 690.1L1878.6 730.7L1878.8 714.2L1879.1 665.2L1879.4 706L1879.7 747.4L1880 674.2L1880.3 687.3L1880.5 683L1880.8 708.5L1881.1 704.1L1881.4 719.6L1881.7 732L1882 670.4L1882.2 722.1L1882.5 724.8L1882.8 723.5L1883.1 659.8L1883.4 686.4L1883.6 720.3L1883.9 711L1884.2 695.4L1884.5 684.9L1884.8 753L1885.1 683.5L1885.3 714L1885.6 726.5L1885.9 718L1886.2 685.1L1886.5 658.1L1886.8 702.1L1887 690.5L1887.3 727.9L1887.6 691.6L1887.9 682.1L1888.2 745.5L1888.4 718.3L1888.7 682L1889 752L1889.3 713.4L1889.6 686.2L1889.9 749.1L1890.1 713L1890.4 700.2L1890.7 676.8L1891 736.4L1891.3 670.1L1891.6 691.9L1891.8 667L1892.1 667.5L1892.4 689.9L1892.7 685.6L1893 746.8L1893.2 735.7L1893.5 725.8L1893.8 707.3L1894.1 671.5L1894.4 746.4L1894.7 705.5L1894.9 732.9L1895.2 739.2L1895.5 654.7L1895.8 692.6L1896.1 649.6L1896.4 661.8L1896.6 719.8L1896.9 745.4L1897.2 636.1L1897.5 704.5L1897.8 724.7L1898 673.4L1898.3 688.4L1898.6 710.5L1898.9 701.1L1899.2 686.7L1899.5 688.8L1899.7 669.5L1900 700L1900.3 699.3L1900.6 672.7L1900.9 680.4L1901.2 658.3L1901.4 695.3L1901.7 690.8L1902 719.9L1902.3 645.6L1902.6 725.8L1902.9 681L1903.1 711.1L1903.4 676.5L1903.7 664.8L1904 730.9L1904.3 690.7L1904.5 733.5L1904.8 644.9L1905.1 696.1L1905.4 727.4L1905.7 702.6L1906 646L1906.2 640.7L1906.5 646.4L1906.8 703.4L1907.1 685.4L1907.4 635L1907.7 700.8L1907.9 689.4L1908.2 706.3L1908.5 711.8L1908.8 645.1L1909.1 660.8L1909.3 665.5L1909.6 661.5L1909.9 648.7L1910.2 634.6L1910.5 676.7L1910.8 685.7L1911 704.4L1911.3 645L1911.6 689.4L1911.9 716.5L1912.2 681.7L1912.5 673L1912.7 649.9L1913 644.7L1913.3 693L1913.6 694.6L1913.9 680.9L1914.1 705.3L1914.4 673.9L1914.7 657.4L1915 668.8L1915.3 715L1915.6 702.7L1915.8 632.5L1916.1 696.9L1916.4 647.1L1916.7 649.6L1917 676.1L1917.3 694.7L1917.5 660.2L1917.8 690.8L1918.1 670.3L1918.4 661.9L1918.7 684.7L1918.9 670.4L1919.2 672.3L1919.5 698.1L1919.8 668.1L1920.1 680.3L1920.4 713.4L1920.6 671L1920.9 669L1921.2 677.6L1921.5 718.5L1921.8 637.7L1922.1 639.8L1922.3 640.3L1922.6 649.1L1922.9 693.5L1923.2 654L1923.5 683.3L1923.7 594.5L1924 670.9L1924.3 636.7L1924.6 699.3L1924.9 688.3L1925.2 669.6L1925.4 633.9L1925.7 637.9L1926 644.8L1926.3 705.3L1926.6 619.9L1926.9 678L1927.1 605.2L1927.4 597.6L1927.7 626.8L1928 621.7L1928.3 685.4L1928.6 575.4L1928.8 642.3L1929.1 619.6L1929.4 672.1L1929.7 649.1L1930 680.6L1930.2 653.2L1930.5 645.4L1930.8 638.1L1931.1 605.1L1931.4 630.8L1931.7 637.1L1931.9 642.5L1932.2 585.6L1932.5 659.2L1932.8 608.1L1933.1 697.7L1933.4 666.2L1933.6 628.8L1933.9 644.7L1934.2 553.4L1934.5 565.1L1934.8 682.1L1935 668.8L1935.3 641.6L1935.6 587.1L1935.9 604L1936.2 626.7L1936.5 676.2L1936.7 659.4L1937 711.8L1937.3 678.4L1937.6 621.5L1937.9 610.6L1938.2 670.4L1938.4 629.4L1938.7 585.3L1939 627L1939.3 640.2L1939.6 613.4L1939.8 615.5L1940.1 628.1L1940.4 645.6L1940.7 642.1L1941 627L1941.3 645.1L1941.5 590.6L1941.8 603L1942.1 597.1L1942.4 569.7L1942.7 582.4L1943 586.7L1943.2 616.7L1943.5 632.7L1943.8 560.4L1944.1 646L1944.4 644.2L1944.6 651.2L1944.9 619.6L1945.2 613.5L1945.5 595.6L1945.8 631.6L1946.1 674.9L1946.3 615.4L1946.6 596.2L1946.9 623.2L1947.2 627.7L1947.5 607.3L1947.8 581.9L1948 625.1L1948.3 664L1948.6 639L1948.9 627.3L1949.2 674.4L1949.4 599.8L1949.7 644L1950 606.9L1950.3 615.8L1950.6 630.2L1950.9 573.9L1951.1 637.1L1951.4 640.1L1951.7 611.9L1952 595.9L1952.3 620.1L1952.6 648.3L1952.8 599.7L1953.1 602L1953.4 559.2L1953.7 625.6L1954 612.8L1954.3 635.3L1954.5 661.8L1954.8 616.3L1955.1 593.7L1955.4 647.6L1955.7 637.6L1955.9 652L1956.2 578.9L1956.5 636L1956.8 600.7L1957.1 642.5L1957.4 615.1L1957.6 635.3L1957.9 685.2L1958.2 614.6L1958.5 601.5L1958.8 677.2L1959.1 621.6L1959.3 629L1959.6 647.7L1959.9 623.6L1960.2 672.5L1960.5 608.8L1960.7 581.6L1961 652.6L1961.3 617.8L1961.6 574.4L1961.9 612.2L1962.2 630.8L1962.4 642.1L1962.7 610.4L1963 619.4L1963.3 597.1L1963.6 659.6L1963.9 584L1964.1 627L1964.4 596.5L1964.7 636.1L1965 652.8L1965.3 631.5L1965.5 642.7L1965.8 625.8L1966.1 596L1966.4 583.4L1966.7 608.8L1967 630.4L1967.2 627.7L1967.5 597.3L1967.8 581.5L1968.1 623.8L1968.4 618L1968.7 636.2L1968.9 608.3L1969.2 586.4L1969.5 698.7L1969.8 606.7L1970.1 630.1L1970.3 681.7L1970.6 604.9L1970.9 616.6L1971.2 603.2L1971.5 653.6L1971.8 551.7L1972 610.6L1972.3 623.7L1972.6 569.4L1972.9 594.7L1973.2 589.4L1973.5 579.7L1973.7 673.8L1974 564.9L1974.3 623.6L1974.6 605.1L1974.9 586.5L1975.2 634.1L1975.4 604.1L1975.7 591.1L1976 614.5L1976.3 598.8L1976.6 659.9L1976.8 647.9L1977.1 646.6L1977.4 602.3L1977.7 504.2L1978 605.4L1978.3 617.4L1978.5 614.9L1978.8 584.4L1979.1 592.2L1979.4 646.3L1979.7 583.4L1980 613.6L1980.2 589.1L1980.5 671.1L1980.8 658.2L1981.1 595.5L1981.4 665.3L1981.6 601.5L1981.9 603L1982.2 608.6L1982.5 602.5L1982.8 605.1L1983.1 599.8L1983.3 624.7L1983.6 613.6L1983.9 527.8L1984.2 580L1984.5 595.4L1984.8 602L1985 634.7L1985.3 607.2L1985.6 621.2L1985.9 586.8L1986.2 641.1L1986.4 683.5L1986.7 631.4L1987 595.2L1987.3 544.4L1987.6 586.4L1987.9 645L1988.1 623.3L1988.4 645L1988.7 623.2L1989 644.2L1989.3 666.3L1989.6 606.2L1989.8 613.9L1990.1 624.9L1990.4 610.4L1990.7 562L1991 618L1991.2 632.8L1991.5 597.3L1991.8 670.3L1992.1 601.5L1992.4 646.2L1992.7 647.9L1992.9 621.5L1993.2 576.9L1993.5 647.2L1993.8 598.6L1994.1 615.6L1994.4 667.1L1994.6 600.9L1994.9 651.6L1995.2 670.6L1995.5 651.4L1995.8 649.9L1996 612.2L1996.3 650.7L1996.6 586.9L1996.9 623.9L1997.2 651.3L1997.5 655L1997.7 624.7L1998 690.1L1998.3 694.6L1998.6 657.7L1998.9 614.5L1999.2 627.8L1999.4 632.6L1999.7 639.7L2000 696.5L2000.3 643.5L2000.6 685.5L2000.9 610.9L2001.1 635.4L2001.4 638.1L2001.7 624.4L2002 626.9L2002.3 629.9L2002.5 626.9L2002.8 654.1L2003.1 675.9L2003.4 628.2L2003.7 596.9L2004 609.7L2004.2 645.3L2004.5 622L2004.8 652.5L2005.1 629.3L2005.4 658.2L2005.7 637.2L2005.9 584.3L2006.2 620L2006.5 599.7L2006.8 665.1L2007.1 663.1L2007.3 645L2007.6 628.5L2007.9 650.8L2008.2 616.4L2008.5 661.6L2008.8 607.5L2009 619.2L2009.3 679.2L2009.6 631.2L2009.9 654.8L2010.2 619.9L2010.5 664.7L2010.7 641.1L2011 634.9L2011.3 729.4L2011.6 705.1L2011.9 648.5L2012.1 656.2L2012.4 624.3L2012.7 647.3L2013 690.4L2013.3 645.5L2013.6 676.7L2013.8 662.5L2014.1 670.9L2014.4 647.2L2014.7 697.9L2015 689.9L2015.3 721.8L2015.5 598.6L2015.8 688.1L2016.1 684.9L2016.4 693.7L2016.7 679.8L2016.9 674.6L2017.2 645.4L2017.5 658.4L2017.8 654.7L2018.1 681.3L2018.4 667.3L2018.6 631.5L2018.9 667.2L2019.2 658.5L2019.5 725L2019.8 653.9L2020.1 661.8L2020.3 633.4L2020.6 747.8L2020.9 670.4L2021.2 675.2L2021.5 670.1L2021.8 690.9L2022 668L2022.3 654.9L2022.6 674L2022.9 684.2L2023.2 682.6L2023.4 688.1L2023.7 676.8L2024 698.7L2024.3 735L2024.6 641.9L2024.9 729.7L2025.1 684.5L2025.4 718.4L2025.7 690.5L2026 710.1L2026.3 685L2026.6 707.9L2026.8 721.2L2027.1 677.1L2027.4 649.1L2027.7 677.3L2028 684.6L2028.2 717.6L2028.5 691.2L2028.8 677.1L2029.1 708.3L2029.4 665.8L2029.7 692.6L2029.9 682.3L2030.2 706.5L2030.5 706.9L2030.8 687.9L2031.1 683.9L2031.4 685.6L2031.6 724.1L2031.9 716.8L2032.2 697.7L2032.5 749.2L2032.8 669.4L2033 690.2L2033.3 698.4L2033.6 719.9L2033.9 678L2034.2 708.8L2034.5 649.3L2034.7 691.6L2035 744.2L2035.3 683.4L2035.6 718.6L2035.9 719L2036.2 711.8L2036.4 709.3L2036.7 699.2L2037 685.7L2037.3 694.7L2037.6 727.6L2037.8 745.4L2038.1 730.9L2038.4 699.3L2038.7 685.8L2039 660.6L2039.3 747.6L2039.5 708.9L2039.8 717.9L2040.1 723.1L2040.4 708.7L2040.7 719.8L2041 720.7L2041.2 731.6L2041.5 703.4L2041.8 685.8L2042.1 670.4L2042.4 730L2042.6 744.9L2042.9 723.6L2043.2 739.7L2043.5 689.1L2043.8 740.1L2044.1 716.1L2044.3 755.3L2044.6 728.5L2044.9 714.1L2045.2 677.9L2045.5 739L2045.8 710.4L2046 777.7L2046.3 754.3L2046.6 743.9L2046.9 735.7L2047.2 710.7L2047.5 705.6L2047.7 767.1L2048 709.1L2048.3 754.3L2048.6 674.3L2048.9 716.1L2049.1 720.9L2049.4 730.2L2049.7 726.7L2050 726.1L2050.3 745.3L2050.6 706.6L2050.8 719.9L2051.1 707.2L2051.4 729.6L2051.7 709.8L2052 749.3L2052.3 632.1L2052.5 748.7L2052.8 741.9L2053.1 704L2053.4 697L2053.7 752.4L2053.9 776.3L2054.2 769.5L2054.5 758.8L2054.8 753.5L2055.1 737L2055.4 705L2055.6 704L2055.9 750.2L2056.2 719.3L2056.5 710.4L2056.8 696.6L2057.1 739.3L2057.3 755.4L2057.6 715.3L2057.9 694.9L2058.2 750.5L2058.5 683.9L2058.7 690.4L2059 744.4L2059.3 780L2059.6 754L2059.9 747.7L2060.2 724.1L2060.4 784L2060.7 673.4L2061 676.2L2061.3 759.3L2061.6 790.3L2061.9 744.9L2062.1 729.2L2062.4 704.6L2062.7 722L2063 747L2063.3 794.9L2063.5 728.3L2063.8 719.7L2064.1 751L2064.4 735.5L2064.7 737.8L2065 750.1L2065.2 774.9L2065.5 734.8L2065.8 782.5L2066.1 706.8L2066.4 769L2066.7 731.8L2066.9 765L2067.2 735.4L2067.5 751.5L2067.8 731.7L2068.1 767.6L2068.4 790.4L2068.6 754.3L2068.9 756.4L2069.2 787.6L2069.5 766L2069.8 792.6L2070 744.8L2070.3 758.1L2070.6 747.9L2070.9 678.5L2071.2 744.4L2071.5 738.8L2071.7 732.2L2072 753L2072.3 765.3L2072.6 726.1L2072.9 722.2L2073.2 828.3L2073.4 754.6L2073.7 759.5L2074 765.7L2074.3 717.4L2074.6 765.3L2074.8 728L2075.1 765.9L2075.4 762.4L2075.7 732.1L2076 771.7L2076.3 756.4L2076.5 781.8L2076.8 776.1L2077.1 733.2L2077.4 737L2077.7 783.5L2078 784.8L2078.2 685L2078.5 770.6L2078.8 776.9L2079.1 740L2079.4 774.6L2079.6 763.8L2079.9 730.3L2080.2 727.6L2080.5 759.8L2080.8 718.7L2081.1 758.6L2081.3 761.4L2081.6 755.3L2081.9 763.5L2082.2 741.3L2082.5 748L2082.8 776.4L2083 751L2083.3 770.5L2083.6 771.6L2083.9 760L2084.2 729.2L2084.4 749.2L2084.7 722.8L2085 715.1L2085.3 757.9L2085.6 773.3L2085.9 778.3L2086.1 750L2086.4 734.5L2086.7 715.4L2087 792.8L2087.3 733.3L2087.6 729.5L2087.8 693.2L2088.1 753.4L2088.4 759.4L2088.7 799.2L2089 779.6L2089.2 788.4L2089.5 786L2089.8 783.2L2090.1 800.3L2090.4 761.9L2090.7 749.3L2090.9 739.4L2091.2 762.4L2091.5 731.8L2091.8 731.7L2092.1 800.8L2092.4 767.7L2092.6 793.9L2092.9 786.8L2093.2 755.9L2093.5 764.3L2093.8 722.1L2094.1 706.7L2094.3 750.2L2094.6 766.6L2094.9 765.5L2095.2 762.1L2095.5 746.6L2095.7 781.6L2096 746.6L2096.3 768.8L2096.6 734.2L2096.9 726.2L2097.2 716.4L2097.4 766.9L2097.7 798.9L2098 807.9L2098.3 771L2098.6 801L2098.9 807.2L2099.1 772.9L2099.4 789.9L2099.7 745.5L2100 712.4L2100.3 770.1L2100.5 755.8L2100.8 806.2L2101.1 759.6L2101.4 783.2L2101.7 793.9L2102 814.3L2102.2 722.4L2102.5 807.9L2102.8 797.3L2103.1 765L2103.4 757.7L2103.7 757.8L2103.9 762.8L2104.2 789.5L2104.5 745.5L2104.8 760.9L2105.1 804.7L2105.3 723.7L2105.6 775.5L2105.9 741.3L2106.2 805.3L2106.5 798.4L2106.8 782.1L2107 785.4L2107.3 740.3L2107.6 810.4L2107.9 763L2108.2 794.4L2108.5 753.9L2108.7 762.3L2109 782.5L2109.3 709.1L2109.6 769.4L2109.9 739.2L2110.1 803.7L2110.4 771.9L2110.7 766.3L2111 765.2L2111.3 778.1L2111.6 791.1L2111.8 851.2L2112.1 784.4L2112.4 793.8L2112.7 776.4L2113 747L2113.3 711.1L2113.5 755.9L2113.8 743.2L2114.1 753.5L2114.4 751.1L2114.7 754.8L2115 777.5L2115.2 779.3L2115.5 762.1L2115.8 723.3L2116.1 750.3L2116.4 728.5L2116.6 805.6L2116.9 764.4L2117.2 760.9L2117.5 757.8L2117.8 808.1L2118.1 820.7L2118.3 828.2L2118.6 782.7L2118.9 710.3L2119.2 766.7L2119.5 804.6L2119.8 763.7L2120 780.8L2120.3 768.4L2120.6 785L2120.9 807.4L2121.2 787.4L2121.4 754.6L2121.7 765.6L2122 741.4L2122.3 802.1L2122.6 746.2L2122.9 772.4L2123.1 769L2123.4 741.3L2123.7 777.7L2124 767.7L2124.3 757.6L2124.6 757.5L2124.8 753.2L2125.1 740.7L2125.4 760.9L2125.7 786.6L2126 710.4L2126.2 775.9L2126.5 765.3L2126.8 795L2127.1 833L2127.4 796.1L2127.7 773.9L2127.9 761.8L2128.2 775.2L2128.5 755.1L2128.8 750L2129.1 750.2L2129.4 776.3L2129.6 774.3L2129.9 782.3L2130.2 799.8L2130.5 739.3L2130.8 809.7L2131 779L2131.3 771.3L2131.6 833.7L2131.9 757.9L2132.2 786.9L2132.5 771.9L2132.7 786.6L2133 818.4L2133.3 773L2133.6 775.5L2133.9 752.1L2134.2 766L2134.4 822.9L2134.7 749.7L2135 757.9L2135.3 758.8L2135.6 766.3L2135.8 797.7L2136.1 765.3L2136.4 789L2136.7 703.8L2137 785.9L2137.3 809L2137.5 788.8L2137.8 742.2L2138.1 795.1L2138.4 844.5L2138.7 741.7L2139 771.9L2139.2 793.6L2139.5 761.9L2139.8 805.1L2140.1 811.8L2140.4 756L2140.7 794.7L2140.9 767.3L2141.2 781.1L2141.5 759.6L2141.8 778.8L2142.1 835.6L2142.3 764L2142.6 794.4L2142.9 758.9L2143.2 779.2L2143.5 744.9L2143.8 790.7L2144 836.5L2144.3 791.1L2144.6 769.2L2144.9 791.8L2145.2 795.3L2145.5 744.4L2145.7 787.2L2146 755.7L2146.3 779.5L2146.6 821.5L2146.9 808.3L2147.1 792L2147.4 775.8L2147.7 805.3L2148 821.2L2148.3 810.8L2148.6 798L2148.8 807.6L2149.1 799.8L2149.4 735.8L2149.7 777.4L2150 806.3L2150.3 785.3L2150.5 743.7L2150.8 768.2L2151.1 788L2151.4 821L2151.7 830.1L2151.9 794.6L2152.2 788.6L2152.5 828.5L2152.8 821.1L2153.1 787.2L2153.4 844.3L2153.6 831.5L2153.9 787.8L2154.2 771.9L2154.5 778.3L2154.8 760.6L2155.1 745.6L2155.3 763.5L2155.6 794L2155.9 731.4L2156.2 743.1L2156.5 762.7L2156.7 808.7L2157 777L2157.3 842.4L2157.6 796.4L2157.9 852.9L2158.2 798.8L2158.4 761.1L2158.7 787.5L2159 745.8L2159.3 788.2L2159.6 785.6L2159.9 796.2L2160.1 774.5L2160.4 789.4L2160.7 757.1L2161 746.5L2161.3 779L2161.6 818.2L2161.8 774.3L2162.1 753.5L2162.4 772L2162.7 781.5L2163 764.6L2163.2 754.8L2163.5 857.7L2163.8 749.8L2164.1 769.3L2164.4 777.1L2164.7 804.3L2164.9 784L2165.2 774.1L2165.5 828.9L2165.8 770.6L2166.1 788.4L2166.4 752L2166.6 772.7L2166.9 795.1L2167.2 789.2L2167.5 773.9L2167.8 787L2168 776.6L2168.3 809.6L2168.6 823.7L2168.9 806.1L2169.2 828.6L2169.5 811.7L2169.7 782.2L2170 834.2L2170.3 823.8L2170.6 772.6L2170.9 805.7L2171.2 792.3L2171.4 824.4L2171.7 819.4L2172 800.2L2172.3 749.8L2172.6 780.9L2172.8 836.3L2173.1 781L2173.4 768.7L2173.7 774.8L2174 824.9L2174.3 794.8L2174.5 737.8L2174.8 817.6L2175.1 784.7L2175.4 813L2175.7 826.7L2176 804.9L2176.2 766.9L2176.5 763.6L2176.8 816.9L2177.1 806.4L2177.4 817.3L2177.6 848.3L2177.9 778.5L2178.2 753.8L2178.5 755.4L2178.8 806.7L2179.1 760.1L2179.3 766.3L2179.6 803.6L2179.9 795L2180.2 804.6L2180.5 788.8L2180.8 747.9L2181 819.3L2181.3 826.4L2181.6 772.6L2181.9 793.9L2182.2 844.7L2182.4 822L2182.7 817.2L2183 811.6L2183.3 787.5L2183.6 770L2183.9 800.2L2184.1 792.2L2184.4 815.6L2184.7 769.7L2185 761.4L2185.3 803.3L2185.6 815.8L2185.8 742.7L2186.1 772.5L2186.4 820L2186.7 840.9L2187 804.6L2187.3 765.8L2187.5 811.3L2187.8 803.6L2188.1 810.1L2188.4 780.4L2188.7 761.1L2188.9 830.3L2189.2 805.1L2189.5 802.9L2189.8 814L2190.1 829L2190.4 776.6L2190.6 794L2190.9 779.4L2191.2 758.8L2191.5 807.8L2191.8 784.3L2192.1 809L2192.3 800.9L2192.6 790L2192.9 803L2193.2 838.2L2193.5 759.7L2193.7 795.1L2194 829L2194.3 856.7L2194.6 799.9L2194.9 782.4L2195.2 773.2L2195.4 770.5L2195.7 809.6L2196 783L2196.3 840.1L2196.6 796L2196.9 776.2L2197.1 816.1L2197.4 804.5L2197.7 797.6L2198 796.9L2198.3 761.7L2198.5 828.8L2198.8 765.8L2199.1 833.4L2199.4 818.3L2199.7 821.3L2200 803.4L2200.2 814.2L2200.5 788.8L2200.8 801.1L2201.1 744.2L2201.4 791.6L2201.7 808.3L2201.9 792.1L2202.2 786.4L2202.5 807L2202.8 831.2L2203.1 823.3L2203.3 797.7L2203.6 780.8L2203.9 790L2204.2 804.9L2204.5 788.1L2204.8 815.7L2205 796.2L2205.3 766.1L2205.6 774.1L2205.9 768L2206.2 813.1L2206.5 798.2L2206.7 830L2207 779.8L2207.3 815L2207.6 838.4L2207.9 817.1L2208.2 797.6L2208.4 861.9L2208.7 841.4L2209 778.9L2209.3 802.2L2209.6 806L2209.8 846.8L2210.1 763.8L2210.4 778.4L2210.7 787L2211 834.3L2211.3 790.4L2211.5 775.8L2211.8 814.2L2212.1 812.3L2212.4 818.3L2212.7 790.4L2213 812.3L2213.2 814.5L2213.5 844.2L2213.8 849.8L2214.1 782.2L2214.4 765.7L2214.6 784.3L2214.9 770L2215.2 821.1L2215.5 808.5L2215.8 797.6L2216.1 811.7L2216.3 764.1L2216.6 842.2L2216.9 822.7L2217.2 817L2217.5 826.4L2217.8 786.2L2218 860.2L2218.3 778.7L2218.6 784.9L2218.9 800.3L2219.2 772.3L2219.4 747.6L2219.7 804.1L2220 789.9L2220.3 798.8L2220.6 795.5L2220.9 822.3L2221.1 827.9L2221.4 793.4L2221.7 822.9L2222 785.2L2222.3 788.8L2222.6 821.2L2222.8 800.2L2223.1 807.7L2223.4 813.4L2223.7 780.4L2224 808.9L2224.2 804L2224.5 860.6L2224.8 794.7L2225.1 847.8L2225.4 820.5L2225.7 768.7L2225.9 764.2L2226.2 820.9L2226.5 843.5L2226.8 800.5L2227.1 821.3L2227.4 802.3L2227.6 846.2L2227.9 782.1L2228.2 771.1L2228.5 849.1L2228.8 831.6L2229 829.7L2229.3 792.6L2229.6 862.9L2229.9 806.5L2230.2 817.9L2230.5 832.7L2230.7 793.9L2231 862.9L2231.3 847.9L2231.6 832.8L2231.9 794L2232.2 821.6L2232.4 834.2L2232.7 800.3L2233 825.3L2233.3 829.7L2233.6 820.8L2233.9 804.2L2234.1 743L2234.4 841.5L2234.7 806L2235 817.3L2235.3 820.1L2235.5 773.9L2235.8 793.3L2236.1 796L2236.4 825.3L2236.7 835.6L2237 806L2237.2 821.2L2237.5 828.7L2237.8 796.4L2238.1 845.2L2238.4 832.9L2238.7 793.5L2238.9 816.2L2239.2 796.8L2239.5 836.3L2239.8 795.9L2240.1 832.7L2240.3 779.1L2240.6 793.8L2240.9 802.4L2241.2 774.6L2241.5 805.4L2241.8 831L2242 774.2L2242.3 805.7L2242.6 783L2242.9 810.8L2243.2 784.6L2243.5 837.3L2243.7 847.8L2244 851.5L2244.3 795.2L2244.6 866.1L2244.9 861.4L2245.1 852L2245.4 809.2L2245.7 803.9L2246 836.5L2246.3 794.9L2246.6 807.1L2246.8 784L2247.1 791L2247.4 833.5L2247.7 810.4L2248 820L2248.3 803.7L2248.5 810.5L2248.8 815.2L2249.1 797.4L2249.4 814.3L2249.7 796.9L2249.9 815.1L2250.2 820.2L2250.5 792.2L2250.8 791.5L2251.1 784.1L2251.4 800L2251.6 821.9L2251.9 811.5L2252.2 812.5L2252.5 862.3L2252.8 845.9L2253.1 777.1L2253.3 818.4L2253.6 891L2253.9 820.1L2254.2 812.9L2254.5 849L2254.8 758.1L2255 788L2255.3 796.3L2255.6 822.3L2255.9 805L2256.2 795.7L2256.4 805.3L2256.7 835.1L2257 812.9L2257.3 814.5L2257.6 810.4L2257.9 845.1L2258.1 811.4L2258.4 818.2L2258.7 812.3L2259 813.2L2259.3 855.9L2259.6 796.5L2259.8 799.3L2260.1 853.7L2260.4 821.4L2260.7 841.2L2261 830.9L2261.2 793.3L2261.5 805.6L2261.8 768.1L2262.1 817.2L2262.4 848.8L2262.7 816.9L2262.9 883.3L2263.2 773.9L2263.5 813.5L2263.8 808.8L2264.1 816.6L2264.4 842.7L2264.6 823.9L2264.9 841.3L2265.2 834.3L2265.5 812.6L2265.8 852.6L2266 779L2266.3 849.3L2266.6 800.3L2266.9 838.5L2267.2 854.4L2267.5 812.3L2267.7 818.2L2268 828.5L2268.3 824.3L2268.6 839.1L2268.9 812.1L2269.2 835.7L2269.4 822.9L2269.7 794.8L2270 857.9L2270.3 838.6L2270.6 841.4L2270.8 844.7L2271.1 859.1L2271.4 831.4L2271.7 820.5L2272 827.4L2272.3 866L2272.5 807.1L2272.8 806.6L2273.1 823L2273.4 850.8L2273.7 847.2L2274 774.7L2274.2 780.6L2274.5 813L2274.8 848.9L2275.1 792.8L2275.4 820.9L2275.6 782.2L2275.9 840.4L2276.2 813.5L2276.5 831.1L2276.8 806.3L2277.1 842.2L2277.3 802.1L2277.6 835.8L2277.9 849L2278.2 811.3L2278.5 819.9L2278.8 880.7L2279 827.2L2279.3 823.5L2279.6 821.4L2279.9 773.2L2280.2 842.9L2280.5 826.7L2280.7 870.3L2281 864.1L2281.3 841.2L2281.6 829.8L2281.9 831.6L2282.1 810L2282.4 807.6L2282.7 800.4L2283 830.8L2283.3 813.9L2283.6 845.2L2283.8 817.3L2284.1 814.2L2284.4 839.7L2284.7 910.2L2285 843.7L2285.3 760L2285.5 829.4L2285.8 843.4L2286.1 824.1L2286.4 798L2286.7 818.3L2286.9 832.3L2287.2 860.3L2287.5 834.7L2287.8 858L2288.1 817.9L2288.4 787.9L2288.6 799.7L2288.9 842.5L2289.2 852.7L2289.5 863.3L2289.8 815.7L2290.1 812.4L2290.3 806.7L2290.6 818.5L2290.9 858.7L2291.2 877.2L2291.5 798.4L2291.7 849.2L2292 778.1L2292.3 882.3L2292.6 856.2L2292.9 851.8L2293.2 820.7L2293.4 810.3L2293.7 842L2294 812.2L2294.3 861.5L2294.6 840.7L2294.9 859.3L2295.1 842.2L2295.4 844.5L2295.7 819.9L2296 738.5L2296.3 863.5L2296.5 833.2L2296.8 810.1L2297.1 826.1L2297.4 791.1L2297.7 854.6L2298 807.8L2298.2 848.4L2298.5 806.7L2298.8 823.7L2299.1 821.6L2299.4 843.3L2299.7 876.1L2299.9 856.8L2300.2 809.7L2300.5 834.9L2300.8 808.9L2301.1 862.5L2301.4 811.4L2301.6 801.9L2301.9 885.5L2302.2 819.8L2302.5 777.7L2302.8 847.7L2303 802.1L2303.3 827L2303.6 805.9L2303.9 838.1L2304.2 848.2L2304.5 839.2L2304.7 837.5L2305 843.4L2305.3 850.9L2305.6 799.4L2305.9 843.2L2306.2 859.4L2306.4 852.4L2306.7 815.4L2307 886L2307.3 815.1L2307.6 809.5L2307.8 794.9L2308.1 839.5L2308.4 849.4L2308.7 823.5L2309 824.4L2309.3 793.9L2309.5 826.6L2309.8 839.1L2310.1 862.7L2310.4 833.5L2310.7 826.1L2311 797.3L2311.2 825.3L2311.5 792.9L2311.8 795.8L2312.1 848L2312.4 857.7L2312.6 844.5L2312.9 834.1L2313.2 849L2313.5 809.8L2313.8 810.5L2314.1 796.6L2314.3 820.8L2314.6 839.4L2314.9 817.4L2315.2 851.7L2315.5 824.2L2315.8 847.9L2316 798L2316.3 897.4L2316.6 806L2316.9 805.1L2317.2 829.2L2317.4 819.3L2317.7 822.8L2318 794.4L2318.3 785.1L2318.6 827.9L2318.9 785.6L2319.1 844.9L2319.4 817.4L2319.7 816.8L2320 861L2320.3 819.7L2320.6 845.6L2320.8 807.6L2321.1 851.4L2321.4 874.5L2321.7 862.2L2322 827.8L2322.2 820.3L2322.5 819.5L2322.8 848.3L2323.1 807.9L2323.4 842.7L2323.7 834.2L2323.9 803L2324.2 832.7L2324.5 877.4L2324.8 810L2325.1 828.6L2325.4 838.7L2325.6 795.1L2325.9 845L2326.2 811.7L2326.5 825.2L2326.8 761.2L2327.1 875.6L2327.3 823.7L2327.6 819.8L2327.9 800.3L2328.2 839.9L2328.5 845.5L2328.7 792.8L2329 840.1L2329.3 821.8L2329.6 830.5L2329.9 819.3L2330.2 864.3L2330.4 843.5L2330.7 830.9L2331 826.7L2331.3 801L2331.6 816.4L2331.9 814.8L2332.1 831.3L2332.4 797.2L2332.7 845.8L2333 832.6L2333.3 868.9L2333.5 857.6L2333.8 808.4L2334.1 831.8L2334.4 878.9L2334.7 832L2335 837.1L2335.2 860.6L2335.5 822.5L2335.8 838.4L2336.1 831.3L2336.4 807.1L2336.7 847.8L2336.9 803.9L2337.2 839.1L2337.5 838.9L2337.8 798.9L2338.1 822.7L2338.3 843.2L2338.6 835.9L2338.9 827.4L2339.2 870.9L2339.5 816L2339.8 833.6L2340 867.2L2340.3 858.3L2340.6 811.5L2340.9 867L2341.2 778.5L2341.5 862.2L2341.7 829.3L2342 901.2L2342.3 836.9L2342.6 848.8L2342.9 822.9L2343.1 830.6L2343.4 844.5L2343.7 780.2L2344 816.2L2344.3 855.5L2344.6 827.6L2344.8 911.9L2345.1 852.3L2345.4 805L2345.7 852L2346 834L2346.3 868L2346.5 817.8L2346.8 835.4L2347.1 838.6L2347.4 814.5L2347.7 796.4L2347.9 818.5L2348.2 884.5L2348.5 829.3L2348.8 833L2349.1 869.8L2349.4 882.3L2349.6 851.1L2349.9 848.5L2350.2 842.6L2350.5 860.2L2350.8 837.2L2351.1 833.8L2351.3 849.2L2351.6 831.9L2351.9 857.3L2352.2 883.1L2352.5 842.6L2352.8 819.7L2353 772.6L2353.3 898.3L2353.6 856.3L2353.9 866.1L2354.2 836.5L2354.4 866.5L2354.7 840.5L2355 818.2L2355.3 863.6L2355.6 846.2L2355.9 802.4L2356.1 821.6L2356.4 886.9L2356.7 791L2357 862.8L2357.3 837.4L2357.6 856.2L2357.8 857.5L2358.1 863.8L2358.4 829.8L2358.7 866.3L2359 879.1L2359.2 861.4L2359.5 846.8L2359.8 899.1L2360.1 826.5L2360.4 866L2360.7 828.7L2360.9 811.8L2361.2 839.8L2361.5 834.3L2361.8 860.1L2362.1 866.1L2362.4 898.2L2362.6 854.1L2362.9 863.5L2363.2 911.2L2363.5 842.7L2363.8 810.6L2364 839.9L2364.3 820.4L2364.6 857.9L2364.9 877.6L2365.2 849.7L2365.5 860.7L2365.7 881.5L2366 825.4L2366.3 848.1L2366.6 869.9L2366.9 848L2367.2 857.3L2367.4 837.7L2367.7 812.5L2368 870.5L2368.3 885.7L2368.6 819.2L2368.8 793L2369.1 871.5L2369.4 879.7L2369.7 887.6L2370 857L2370.3 854.3L2370.5 864.3L2370.8 836.1L2371.1 879.5L2371.4 874.2L2371.7 891.9L2372 823.7L2372.2 832.4L2372.5 826.9L2372.8 883.5L2373.1 827.4L2373.4 855.3L2373.7 844.9L2373.9 849.3L2374.2 873.4L2374.5 870.3L2374.8 906.7L2375.1 881.7L2375.3 874.2L2375.6 899.2L2375.9 867.5L2376.2 837.7L2376.5 884.6L2376.8 897.8L2377 895.8L2377.3 869.6" fill="none" stroke="#7E2F8E" stroke-width="6" stroke-linejoin="round" stroke-linecap="butt"/>
<text x="1561.6" y="1043.8" font-size="71" text-anchor="middle" fill="#262626" >0.9</text>
<text x="1800.9" y="1043.8" font-size="71" text-anchor="middle" fill="#262626" >1</text>
<text x="2040.3" y="1043.8" font-size="71" text-anchor="middle" fill="#262626" >1.1</text>
<text x="2279.6" y="1043.8" font-size="71" text-anchor="middle" fill="#262626" >1.2</text>
<text x="1499.6" y="971.5" font-size="71" text-anchor="end" fill="#262626" >-100</text>
<text x="1499.6" y="822.8" font-size="71" text-anchor="end" fill="#262626" >0</text>
<text x="1499.6" y="674.1" font-size="71" text-anchor="end" fill="#262626" >100</text>
<text x="1499.6" y="525.3" font-size="71" text-anchor="end" fill="#262626" >200</text>
<text x="1499.6" y="376.6" font-size="71" text-anchor="end" fill="#262626" >300</text>
<text x="1499.6" y="227.9" font-size="71" text-anchor="end" fill="#262626" >400</text>
<text x="1954.9" y="1150.2" font-size="76.5" text-anchor="middle" fill="#262626" >Photon energy (eV)</text>
<text transform="translate(1321,574.2) rotate(-90)" font-size="77" text-anchor="middle" fill="#262626">PL intensity (a.u.)</text>
<path d="M1963.1 290.3H2153.6" stroke="#0072BD" stroke-width="6.5"/>
<path d="M1963.1 372.3H2153.6" stroke="#7E2F8E" stroke-width="6.5"/>
<text x="2167" y="315.1" font-size="64.5" text-anchor="start" fill="#000" >5K</text>
<text x="2167" y="398" font-size="64.5" text-anchor="start" fill="#000" >299K</text>
<text x="1211.5" y="117.3" font-size="103.5" text-anchor="start" fill="#000" >(b)</text>
</g>
<g id="pc">
<rect x="476.3" y="1284.5" width="1763.7" height="518.9" fill="none" stroke="#262626" stroke-width="3.6"/>
<path d="M546.9 1803.4V1784.4M546.9 1284.5V1303.5M795.9 1803.4V1784.4M795.9 1284.5V1303.5M1044.9 1803.4V1784.4M1044.9 1284.5V1303.5M1293.9 1803.4V1784.4M1293.9 1284.5V1303.5M1542.9 1803.4V1784.4M1542.9 1284.5V1303.5M1791.9 1803.4V1784.4M1791.9 1284.5V1303.5M2040.9 1803.4V1784.4M2040.9 1284.5V1303.5M476.3 1760H495.3M2240 1760H2221M476.3 1543.8H495.3M2240 1543.8H2221M476.3 1327.5H495.3M2240 1327.5H2221" stroke="#262626" stroke-width="3.6" fill="none"/>
<path d="M477.5 1768.7L481.3 1768L485 1767.1L488.8 1765.8L492.5 1766.2L496.3 1768.2L500 1766.9L503.8 1766.3L507.5 1765.7L511.3 1767.5L515 1768.6L518.8 1769.1L522.5 1771.7L526.3 1771.5L530 1772.8L533.8 1774.4L537.5 1774.2L541.3 1774.9L545 1773.1L548.8 1772.2L552.6 1772.2L556.3 1771L560.1 1771L563.8 1769.6L567.6 1768.8L571.3 1769.1L575.1 1769.1L578.8 1767.3L582.6 1768.1L586.3 1767.8L590.1 1769.1L593.8 1767.5L597.6 1768.9L601.3 1766.7L605.1 1767.7L608.8 1768.7L612.6 1767.4L616.3 1768.6L620.1 1765.7L623.9 1767.4L627.6 1767.4L631.4 1767L635.1 1765.6L638.9 1767.3L642.6 1764.3L646.4 1766.9L650.1 1766L653.9 1766.2L657.6 1764.6L661.4 1763.4L665.1 1763.5L668.9 1763.2L672.6 1763.8L676.4 1762.7L680.1 1763.2L683.9 1763.2L687.6 1764L691.4 1760.9L695.2 1762.4L698.9 1763.4L702.7 1763.5L706.4 1762.4L710.2 1762.7L713.9 1762.9L717.7 1763.2L721.4 1762.7L725.2 1762.7L728.9 1762.4L732.7 1763.2L736.4 1764.9L740.2 1762.9L743.9 1764.7L747.7 1765.7L751.4 1764.3L755.2 1766.3L758.9 1764.2L762.7 1765.9L766.5 1764.5L770.2 1763.7L774 1765.3L777.7 1766.9L781.5 1764.9L785.2 1766.2L789 1765.1L792.7 1765.4L796.5 1766.8L800.2 1766.4L804 1767.1L807.7 1767.8L811.5 1765.6L815.2 1766L819 1766.7L822.7 1768.7L826.5 1766.3L830.3 1766.1L834 1766.9L837.8 1768.4L841.5 1765.9L845.3 1766.1L849 1766.4L852.8 1767L856.5 1768.2L860.3 1765.1L864 1764.6L867.8 1766.2L871.5 1766.4L875.3 1763.9L879 1765.2L882.8 1766.6L886.5 1765.1L890.3 1765.9L894 1765.5L897.8 1765.7L901.6 1765L905.3 1764.1L909.1 1764.2L912.8 1761.7L916.6 1761.4L920.3 1761.4L924.1 1759L927.8 1758.5L931.6 1757.6L935.3 1757.1L939.1 1760.1L942.8 1758.7L946.6 1760.3L950.3 1759.4L954.1 1759.2L957.8 1759.2L961.6 1760.1L965.3 1760.2L969.1 1761.4L972.9 1760L976.6 1761.2L980.4 1761.5L984.1 1760L987.9 1757.8L991.6 1755.6L995.4 1752.4L999.1 1748.8L1002.9 1746.9L1006.6 1744.9L1010.4 1745.4L1014.1 1743.5L1017.9 1740.5L1021.6 1741.1L1025.4 1741L1029.1 1738.3L1032.9 1733.9L1036.6 1733.8L1040.4 1731.1L1044.2 1729.2L1047.9 1729.7L1051.7 1725.8L1055.4 1726.8L1059.2 1724.8L1062.9 1726.3L1066.7 1725.6L1070.4 1722.5L1074.2 1719.5L1077.9 1712L1081.7 1709.8L1085.4 1701.1L1089.2 1703.9L1092.9 1698L1096.7 1688.3L1100.4 1681.9L1104.2 1687.5L1107.9 1678.5L1111.7 1677.9L1115.5 1669.1L1119.2 1668.3L1123 1662L1126.7 1660.7L1130.5 1653.3L1134.2 1653.2L1138 1641L1141.7 1640.9L1145.5 1630.7L1149.2 1626.1L1153 1613.4L1156.7 1607.4L1160.5 1611.5L1164.2 1599.1L1168 1597.1L1171.7 1591.8L1175.5 1583.7L1179.2 1580.5L1183 1566L1186.8 1557.7L1190.5 1556.7L1194.3 1541.6L1198 1540.8L1201.8 1534.9L1205.5 1533.6L1209.3 1524.6L1213 1510.2L1216.8 1509.6L1220.5 1503.8L1224.3 1502.2L1228 1477.2L1229.2 1476.5L1231.8 1470.7L1235.5 1471.9L1239.3 1461.9L1240.7 1460.6L1243 1455.3L1246.8 1448.8L1249.4 1446.1L1250.5 1440.1L1254.3 1439.7L1258.1 1436.7L1261 1436L1261.8 1432.1L1265.6 1414.8L1266.7 1415.8L1269.3 1411.6L1273.1 1408.4L1274 1404.2L1276.8 1399.9L1280.6 1396.6L1284.3 1393.5L1287 1389.8L1288.1 1378.5L1289.9 1365.2L1291.8 1359.6L1294.9 1353.6L1295.6 1358.8L1299.3 1375.9L1300.7 1382.5L1303.1 1371.2L1306.8 1356.6L1307.2 1359.4L1310.6 1359L1314.3 1348.9L1314.5 1347.8L1318.1 1335.2L1321.8 1329.9L1322.4 1328.3L1325.6 1337.6L1329.4 1345.6L1330.4 1347.8L1333.1 1354.6L1335.4 1368.1L1336.9 1365.1L1339 1350.7L1340.6 1358.1L1344.1 1370.2L1344.4 1368.2L1348.1 1349.5L1351.3 1330.5L1351.9 1330.9L1355.6 1337.6L1359.4 1347.3L1360.7 1347.8L1363.1 1359.5L1365.1 1376.7L1366.9 1374L1370.6 1362.4L1373 1355.1L1374.4 1373.3L1375.9 1389.8L1378.1 1388.3L1381.9 1384L1385.3 1375.3L1385.6 1380.8L1389.4 1403.3L1389.6 1402.8L1393.2 1404.4L1396.9 1409.5L1399.7 1410L1400.7 1412.6L1404.4 1426.5L1405.5 1433.1L1408.2 1433.5L1411.3 1431.7L1411.9 1434.8L1415.7 1450.7L1417.1 1453.4L1419.4 1448.6L1423.2 1454.8L1424.3 1453.4L1426.9 1467.9L1428.7 1475.1L1430.7 1488.4L1434.4 1492L1438.2 1503.5L1441.9 1507.8L1445.7 1520.2L1449.4 1527.5L1453.2 1540.3L1456.9 1545.4L1460.7 1555.8L1464.5 1559.4L1468.2 1569.5L1472 1573.4L1475.7 1583.2L1479.5 1588.3L1483.2 1593.6L1487 1599L1490.7 1606L1494.5 1615.5L1498.2 1614.3L1502 1632.6L1505.7 1627.7L1509.5 1638.3L1513.2 1640.5L1517 1645.6L1520.7 1646L1524.5 1647.5L1528.2 1651.7L1532 1660.1L1535.8 1670.3L1539.5 1670L1543.3 1666.8L1547 1673.4L1550.8 1677.5L1554.5 1686.5L1558.3 1678.4L1562 1681.7L1565.8 1686.4L1569.5 1688.6L1573.3 1687.6L1577 1695.5L1580.8 1693L1584.5 1697.7L1588.3 1703.2L1592 1699.5L1595.8 1703.5L1599.5 1709.4L1603.3 1707.2L1607.1 1707.3L1610.8 1709.8L1614.6 1714.1L1618.3 1710.9L1622.1 1714.2L1625.8 1714.1L1629.6 1716.2L1633.3 1722.4L1637.1 1721.5L1640.8 1722.5L1644.6 1725.5L1648.3 1724.8L1652.1 1725L1655.8 1729.9L1659.6 1730.1L1663.3 1727.9L1667.1 1731.1L1670.8 1733.2L1674.6 1732.5L1678.4 1733.6L1682.1 1732.1L1685.9 1735.2L1689.6 1733.7L1693.4 1739.2L1697.1 1737.9L1700.9 1740.6L1704.6 1737.9L1708.4 1740.8L1712.1 1737.4L1715.9 1739.5L1719.6 1741.2L1723.4 1741.2L1727.1 1740.9L1730.9 1738.9L1734.6 1743.6L1738.4 1743.1L1742.1 1744.2L1745.9 1744.7L1749.7 1743.2L1753.4 1744.8L1757.2 1748.6L1760.9 1744.4L1764.7 1746.7L1768.4 1746L1772.2 1749.7L1775.9 1748.2L1779.7 1747.1L1783.4 1748.1L1787.2 1747.4L1790.9 1746.7L1794.7 1746.5L1798.4 1749.3L1802.2 1749.1L1805.9 1751L1809.7 1750.1L1813.4 1751.6L1817.2 1753.8L1821 1750.5L1824.7 1750.7L1828.5 1753.6L1832.2 1755.5L1836 1751.9L1839.7 1751.2L1843.5 1753.1L1847.2 1753.3L1851 1754.8L1854.7 1753L1858.5 1754.2L1862.2 1754.4L1866 1753.2L1869.7 1753.5L1873.5 1756.1L1877.2 1756.6L1881 1755.5L1884.7 1758.4L1888.5 1758.1L1892.3 1758.1L1896 1758.6L1899.8 1758.8L1903.5 1759.5L1907.3 1760L1911 1759.6L1914.8 1757.9L1918.5 1759.9L1922.3 1759.5L1926 1759.4L1929.8 1761.3L1933.5 1759.3L1937.3 1761.8L1941 1760.7L1944.8 1760.3L1948.5 1760.8L1952.3 1763.9L1956.1 1763.3L1959.8 1761.8L1963.6 1763.3L1967.3 1764.1L1971.1 1761.8L1974.8 1762.5L1978.6 1763.8L1982.3 1763.5L1986.1 1763L1989.8 1765L1993.6 1764.1L1997.3 1764.6L2001.1 1766.3L2004.8 1764.8L2008.6 1767.1L2012.3 1765.3L2016.1 1765.3L2019.8 1766.1L2023.6 1767.3L2027.4 1767.6L2031.1 1767.8L2034.9 1766.5L2038.6 1767.3L2042.4 1768.3L2046.1 1769.4L2049.9 1770.1L2053.6 1766.6L2057.4 1768.6L2061.1 1768.2L2064.9 1768.4L2068.6 1768.6L2072.4 1767.5L2076.1 1766.9L2079.9 1768.9L2083.6 1768.5L2087.4 1767.3L2091.1 1767.4L2094.9 1766.8L2098.7 1766L2102.4 1767.8L2106.2 1766.4L2109.9 1765.9L2113.7 1766.3L2117.4 1768.2L2121.2 1766.9L2124.9 1766.6L2128.7 1766.3L2132.4 1766.8L2136.2 1766.5L2139.9 1764.3L2143.7 1764.8L2147.4 1763.9L2151.2 1764L2154.9 1763.3L2158.7 1761.2L2162.4 1764.2L2166.2 1764L2170 1763.1L2173.7 1767L2177.5 1767.3L2181.2 1768.9L2185 1769.5L2188.7 1770.8L2192.5 1771.4L2196.2 1771.5L2200 1773.6L2203.7 1775.4L2207.5 1776.1L2211.2 1777.5L2215 1777.6L2218.7 1776.3L2222.5 1779.7L2226.2 1779L2230 1779.2L2233.7 1780.7L2237.5 1780.4" fill="none" stroke="#0072BD" stroke-width="15" stroke-linejoin="round" stroke-linecap="round"/>
<path d="M477.5 1769.9L481.3 1767.5L485 1766.9L488.8 1764.6L492.5 1766.8L496.3 1766.4L500 1766.1L503.8 1766.9L507.5 1767.3L511.3 1766.6L515 1767.8L518.8 1769.3L522.5 1771.5L526.3 1772.5L530 1771.8L533.8 1772.7L537.5 1774.6L541.3 1775.3L545 1773.3L548.8 1772L552.6 1772.7L556.3 1770.5L560.1 1770.5L563.8 1770.6L567.6 1769.4L571.3 1768.8L575.1 1769.3L578.8 1768L582.6 1768.3L586.3 1767.9L590.1 1768.2L593.8 1767.9L597.6 1768.2L601.3 1768L605.1 1768.4L608.8 1768.3L612.6 1768.5L616.3 1769.5L620.1 1766.8L623.9 1769.3L627.6 1767.8L631.4 1766.9L635.1 1767.7L638.9 1767.8L642.6 1768.4L646.4 1766.1L650.1 1766.9L653.9 1766.4L657.6 1764.3L661.4 1764.3L665.1 1765.5L668.9 1765.2L672.6 1765.2L676.4 1764.4L680.1 1764.1L683.9 1763.7L687.6 1764.7L691.4 1762.8L695.2 1763.5L698.9 1764L702.7 1762.3L706.4 1764.9L710.2 1763.1L713.9 1763.8L717.7 1765.9L721.4 1763.3L725.2 1763.7L728.9 1765.6L732.7 1763.4L736.4 1764.1L740.2 1765L743.9 1765.1L747.7 1765.3L751.4 1765.2L755.2 1766.2L758.9 1766.1L762.7 1765.8L766.5 1764.8L770.2 1765L774 1764.2L777.7 1766.8L781.5 1764.8L785.2 1767.6L789 1768.8L792.7 1766.4L796.5 1767L800.2 1767.4L804 1768.6L807.7 1767.1L811.5 1767.8L815.2 1767.4L819 1767.7L822.7 1769.1L826.5 1767.1L830.3 1768L834 1768.2L837.8 1768.7L841.5 1766.8L845.3 1768.9L849 1768.3L852.8 1768.7L856.5 1768L860.3 1766.4L864 1767.3L867.8 1768.7L871.5 1768L875.3 1767.9L879 1769.5L882.8 1769.9L886.5 1767.9L890.3 1769.7L894 1766.1L897.8 1766L901.6 1768.4L905.3 1767.1L909.1 1767.5L912.8 1767.1L916.6 1766.1L920.3 1766.3L924.1 1765.4L927.8 1763.4L931.6 1764.6L935.3 1764.2L939.1 1765.4L942.8 1762.6L946.6 1763.6L950.3 1763.5L954.1 1764.5L957.8 1767.1L961.6 1767.1L965.3 1767.6L969.1 1769.2L972.9 1770.7L976.6 1769.8L980.4 1770.7L984.1 1772.3L987.9 1771.4L991.6 1770.3L995.4 1769.5L999.1 1769.3L1002.9 1767.5L1006.6 1769.1L1010.4 1768L1014.1 1767.2L1017.9 1765.4L1021.6 1765.4L1025.4 1766L1029.1 1765.4L1032.9 1764.3L1036.6 1764.9L1040.4 1764.9L1044.2 1763L1047.9 1762.8L1051.7 1762.1L1055.4 1761.4L1059.2 1762.7L1062.9 1762L1066.7 1761.4L1070.4 1759.4L1074.2 1759L1077.9 1759.2L1081.7 1758.2L1085.4 1757.9L1089.2 1756.4L1092.9 1756.9L1096.7 1757.1L1100.4 1756L1104.2 1755.2L1107.9 1753L1111.7 1752.9L1115.5 1750.8L1119.2 1750.9L1123 1748.7L1126.7 1747.5L1130.5 1746.3L1134.2 1746.4L1138 1744.9L1141.7 1743.8L1145.5 1741.6L1149.2 1741.8L1153 1739.5L1156.7 1741.4L1160.5 1739.2L1164.2 1738.9L1168 1738.1L1171.7 1736.2L1175.5 1735.8L1179.2 1736.5L1183 1737.3L1186.8 1734.3L1190.5 1734L1194.3 1733.9L1198 1731.5L1201.8 1730.5L1205.5 1730.3L1209.3 1729.2L1213 1727.4L1216.8 1727.5L1220.5 1724.5L1224.3 1723.6L1228 1723.5L1231.8 1722.7L1235.5 1719L1239.3 1719.4L1243 1720.3L1246.8 1717.5L1250.5 1717.4L1254.3 1716.6L1258.1 1716.1L1261.8 1715.8L1265.6 1716.4L1269.3 1716.8L1273.1 1716.3L1276.8 1714.3L1280.6 1712L1284.3 1713.4L1288.1 1713L1291.8 1713.8L1295.6 1714.1L1299.3 1713.4L1303.1 1716.1L1306.8 1714L1310.6 1714.8L1314.3 1714.9L1318.1 1714.1L1321.8 1714.7L1325.6 1711.2L1329.4 1713.8L1333.1 1714.5L1336.9 1714.1L1340.6 1715.6L1344.4 1714.8L1348.1 1717.2L1351.9 1718L1355.6 1717.5L1359.4 1718.7L1363.1 1720.1L1366.9 1720.9L1370.6 1724L1374.4 1724.9L1378.1 1727.6L1381.9 1729L1385.6 1729.4L1389.4 1730.5L1393.2 1731.1L1396.9 1732.5L1400.7 1733.8L1404.4 1736L1408.2 1736.1L1411.9 1738.1L1415.7 1739.3L1419.4 1739.6L1423.2 1740.8L1426.9 1743.1L1430.7 1744L1434.4 1742.6L1438.2 1743.7L1441.9 1744.1L1445.7 1744.7L1449.4 1746.9L1453.2 1746.6L1456.9 1747.6L1460.7 1748.6L1464.5 1747.1L1468.2 1747.9L1472 1748.7L1475.7 1750.2L1479.5 1749.9L1483.2 1751.3L1487 1752.5L1490.7 1753.3L1494.5 1753.5L1498.2 1753.4L1502 1753.9L1505.7 1757.6L1509.5 1758.2L1513.2 1758.1L1517 1759.4L1520.7 1760.2L1524.5 1759.8L1528.2 1762.2L1532 1761.8L1535.8 1762.6L1539.5 1763.7L1543.3 1762.7L1547 1762.7L1550.8 1761.8L1554.5 1760.7L1558.3 1760.2L1562 1761.6L1565.8 1759.8L1569.5 1761.5L1573.3 1759.4L1577 1761L1580.8 1760.7L1584.5 1760.2L1588.3 1758.7L1592 1762.7L1595.8 1760.5L1599.5 1760.9L1603.3 1762.1L1607.1 1762.3L1610.8 1762.6L1614.6 1762.4L1618.3 1761.4L1622.1 1763.8L1625.8 1762.4L1629.6 1763.6L1633.3 1764.1L1637.1 1764.8L1640.8 1763.8L1644.6 1763.9L1648.3 1764.1L1652.1 1762.8L1655.8 1763.9L1659.6 1763.8L1663.3 1763.9L1667.1 1765.2L1670.8 1764.9L1674.6 1766.8L1678.4 1766.8L1682.1 1763.8L1685.9 1765.7L1689.6 1764.8L1693.4 1766.2L1697.1 1765.8L1700.9 1766.4L1704.6 1765.6L1708.4 1765.8L1712.1 1764.5L1715.9 1762.2L1719.6 1763.1L1723.4 1763L1727.1 1763.1L1730.9 1762.4L1734.6 1764.6L1738.4 1762.9L1742.1 1764.2L1745.9 1762.7L1749.7 1764.5L1753.4 1762L1757.2 1763.6L1760.9 1761.8L1764.7 1763.4L1768.4 1764.5L1772.2 1761.6L1775.9 1762.3L1779.7 1763.3L1783.4 1762.9L1787.2 1761.8L1790.9 1764.1L1794.7 1763.1L1798.4 1764.3L1802.2 1763.4L1805.9 1762.2L1809.7 1762.8L1813.4 1764.5L1817.2 1762.1L1821 1763L1824.7 1764L1828.5 1764.5L1832.2 1764.4L1836 1762.4L1839.7 1765.6L1843.5 1763.7L1847.2 1763.9L1851 1764L1854.7 1763.9L1858.5 1763.3L1862.2 1763.9L1866 1765.5L1869.7 1763.1L1873.5 1762.2L1877.2 1764.9L1881 1764.8L1884.7 1765.2L1888.5 1766.2L1892.3 1764L1896 1764.9L1899.8 1765.2L1903.5 1765.9L1907.3 1765.8L1911 1764.1L1914.8 1763.7L1918.5 1764.8L1922.3 1763.6L1926 1766.1L1929.8 1764.8L1933.5 1764.9L1937.3 1764.5L1941 1766.7L1944.8 1765.7L1948.5 1765.1L1952.3 1766.1L1956.1 1765.5L1959.8 1766.2L1963.6 1767L1967.3 1765.6L1971.1 1766.4L1974.8 1766.5L1978.6 1767.3L1982.3 1767L1986.1 1766.6L1989.8 1766.2L1993.6 1767.2L1997.3 1766.2L2001.1 1767.9L2004.8 1767.5L2008.6 1768.1L2012.3 1767.4L2016.1 1767.3L2019.8 1767.3L2023.6 1769.3L2027.4 1768.2L2031.1 1768.3L2034.9 1767L2038.6 1768.6L2042.4 1765.6L2046.1 1770L2049.9 1768.6L2053.6 1768.8L2057.4 1767.4L2061.1 1767.7L2064.9 1769.1L2068.6 1768.2L2072.4 1768.7L2076.1 1769.3L2079.9 1768.6L2083.6 1766.1L2087.4 1766.8L2091.1 1766.5L2094.9 1766.6L2098.7 1765.4L2102.4 1765.3L2106.2 1766.4L2109.9 1766.4L2113.7 1767.3L2117.4 1766.4L2121.2 1767.8L2124.9 1764.8L2128.7 1765L2132.4 1766.3L2136.2 1765.6L2139.9 1764.7L2143.7 1765.8L2147.4 1765.5L2151.2 1765L2154.9 1763L2158.7 1763.1L2162.4 1763.3L2166.2 1763.8L2170 1765.6L2173.7 1765.5L2177.5 1767.6L2181.2 1766.5L2185 1770.2L2188.7 1772.2L2192.5 1771.9L2196.2 1774L2200 1772.7L2203.7 1774.9L2207.5 1774.7L2211.2 1777.2L2215 1778.2L2218.7 1777.2L2222.5 1778.4L2226.2 1779.3L2230 1782.6L2233.7 1781L2237.5 1781.8" fill="none" stroke="#7E2F8E" stroke-width="15" stroke-linejoin="round" stroke-linecap="round"/>
<text x="545.1" y="1902.3" font-size="71" text-anchor="middle" fill="#262626" >0.9</text>
<text x="794.1" y="1902.3" font-size="71" text-anchor="middle" fill="#262626" >0.95</text>
<text x="1043.1" y="1902.3" font-size="71" text-anchor="middle" fill="#262626" >1</text>
<text x="1292.1" y="1902.3" font-size="71" text-anchor="middle" fill="#262626" >1.05</text>
<text x="1541.1" y="1902.3" font-size="71" text-anchor="middle" fill="#262626" >1.1</text>
<text x="1790.1" y="1902.3" font-size="71" text-anchor="middle" fill="#262626" >1.15</text>
<text x="2039.1" y="1902.3" font-size="71" text-anchor="middle" fill="#262626" >1.2</text>
<text x="445.8" y="1786" font-size="71" text-anchor="end" fill="#262626" >0</text>
<text x="445.8" y="1569.8" font-size="71" text-anchor="end" fill="#262626" >0.5</text>
<text x="445.8" y="1353.5" font-size="71" text-anchor="end" fill="#262626" >1</text>
<text x="1357.7" y="2009.8" font-size="76.5" text-anchor="middle" fill="#262626" >Photon energy (eV)</text>
<text transform="translate(312,1544) rotate(-90)" font-size="77" text-anchor="middle" fill="#262626">PL intensity (a.u.)</text>
<path d="M1792.8 1368.1H1983.9" stroke="#0072BD" stroke-width="13.4"/>
<path d="M1792.8 1453H1983.9" stroke="#7E2F8E" stroke-width="13.4"/>
<text x="1996" y="1394.7" font-size="64.5" text-anchor="start" fill="#000" >Fresh</text>
<text x="1995.5" y="1478.3" font-size="64.5" fill="#000">100<tspan font-size="40" x="2107.5" y="1442.6">o</tspan><tspan x="2127.5" y="1478.3">C</tspan></text>
<text x="230" y="1173.8" font-size="103.5" text-anchor="start" fill="#000" >(c)</text>
</g>
</svg>
</body></html>
